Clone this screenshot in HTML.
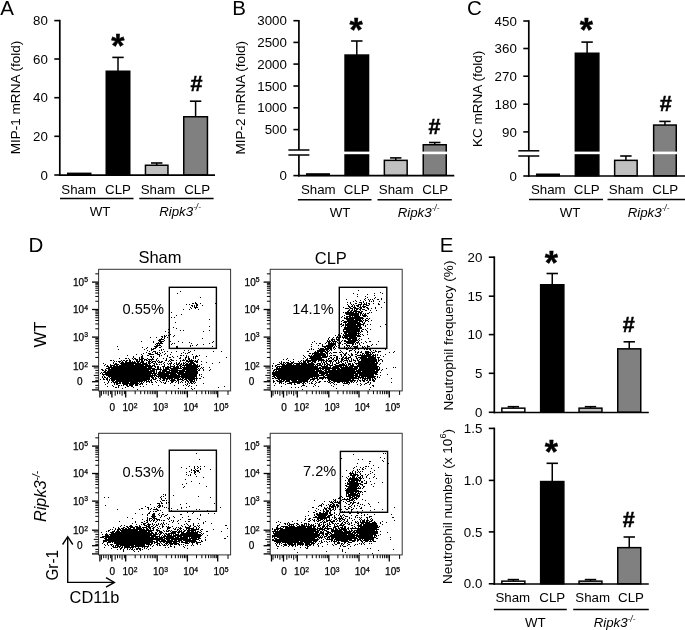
<!DOCTYPE html>
<html><head><meta charset="utf-8"><title>Figure</title>
<style>html,body{margin:0;padding:0;background:#fff;}svg{display:block;filter:grayscale(1);}text{font-family:"Liberation Sans",sans-serif;}</style>
</head><body>
<svg width="685" height="630" viewBox="0 0 685 630">
<rect width="685" height="630" fill="#fff"/>
<text x="0.30" y="15.30" font-size="20.5" text-anchor="start" font-weight="normal" font-style="normal" fill="#000" >A</text>
<text x="232.20" y="15.00" font-size="20.5" text-anchor="start" font-weight="normal" font-style="normal" fill="#000" >B</text>
<text x="466.90" y="15.20" font-size="20.5" text-anchor="start" font-weight="normal" font-style="normal" fill="#000" >C</text>
<text x="28.60" y="251.50" font-size="20.5" text-anchor="start" font-weight="normal" font-style="normal" fill="#000" >D</text>
<text x="439.70" y="252.00" font-size="20.5" text-anchor="start" font-weight="normal" font-style="normal" fill="#000" >E</text>
<rect x="67.75" y="173.35" width="23.00" height="1.60" fill="#000" stroke="#000" stroke-width="1.5"/>
<line x1="118.00" y1="57.40" x2="118.00" y2="71.50" stroke="#000" stroke-width="1.5" />
<line x1="112.30" y1="57.40" x2="123.70" y2="57.40" stroke="#000" stroke-width="1.6" />
<rect x="106.25" y="71.25" width="23.50" height="103.70" fill="#000" stroke="#000" stroke-width="1.5"/>
<line x1="156.70" y1="163.00" x2="156.70" y2="165.50" stroke="#000" stroke-width="1.5" />
<line x1="151.00" y1="163.00" x2="162.40" y2="163.00" stroke="#000" stroke-width="1.6" />
<rect x="145.45" y="165.25" width="22.50" height="9.70" fill="#c0c0c0" stroke="#000" stroke-width="1.5"/>
<line x1="195.60" y1="101.20" x2="195.60" y2="117.00" stroke="#000" stroke-width="1.5" />
<line x1="189.90" y1="101.20" x2="201.30" y2="101.20" stroke="#000" stroke-width="1.6" />
<rect x="183.75" y="116.75" width="23.70" height="58.20" fill="#808080" stroke="#000" stroke-width="1.5"/>
<line x1="59.80" y1="19.80" x2="59.80" y2="176.00" stroke="#000" stroke-width="1.7" />
<line x1="59.00" y1="175.20" x2="215.00" y2="175.20" stroke="#000" stroke-width="1.7" />
<line x1="54.30" y1="20.60" x2="59.80" y2="20.60" stroke="#000" stroke-width="1.6" />
<text x="47.80" y="25.20" font-size="13.3" text-anchor="end" font-weight="normal" font-style="normal" fill="#000" >80</text>
<line x1="54.30" y1="59.00" x2="59.80" y2="59.00" stroke="#000" stroke-width="1.6" />
<text x="47.80" y="63.60" font-size="13.3" text-anchor="end" font-weight="normal" font-style="normal" fill="#000" >60</text>
<line x1="54.30" y1="97.70" x2="59.80" y2="97.70" stroke="#000" stroke-width="1.6" />
<text x="47.80" y="102.30" font-size="13.3" text-anchor="end" font-weight="normal" font-style="normal" fill="#000" >40</text>
<line x1="54.30" y1="136.30" x2="59.80" y2="136.30" stroke="#000" stroke-width="1.6" />
<text x="47.80" y="140.90" font-size="13.3" text-anchor="end" font-weight="normal" font-style="normal" fill="#000" >20</text>
<line x1="54.30" y1="175.00" x2="59.80" y2="175.00" stroke="#000" stroke-width="1.6" />
<text x="47.80" y="179.60" font-size="13.3" text-anchor="end" font-weight="normal" font-style="normal" fill="#000" >0</text>
<text x="78.70" y="193.90" font-size="13.3" text-anchor="middle" font-weight="normal" font-style="normal" fill="#000" >Sham</text>
<text x="118.00" y="193.90" font-size="13.3" text-anchor="middle" font-weight="normal" font-style="normal" fill="#000" >CLP</text>
<text x="158.00" y="193.90" font-size="13.3" text-anchor="middle" font-weight="normal" font-style="normal" fill="#000" >Sham</text>
<text x="197.20" y="193.90" font-size="13.3" text-anchor="middle" font-weight="normal" font-style="normal" fill="#000" >CLP</text>
<line x1="60.00" y1="198.40" x2="133.50" y2="198.40" stroke="#000" stroke-width="1.5" />
<line x1="139.30" y1="198.40" x2="213.60" y2="198.40" stroke="#000" stroke-width="1.5" />
<text x="100.00" y="215.60" font-size="13.3" text-anchor="middle" font-weight="normal" font-style="normal" fill="#000" >WT</text>
<text x="180.00" y="215.60" font-size="13.3" text-anchor="middle" font-weight="normal" font-style="italic" fill="#000" >Ripk3<tspan font-size="8.2" dy="-5.6">-/-</tspan></text>
<text x="20.30" y="97.50" font-size="13.55" text-anchor="middle" font-weight="normal" font-style="normal" fill="#000" transform="rotate(-90 20.30 97.50)" >MIP-1 mRNA (fold)</text>
<text x="117.90" y="57.10" font-size="34" text-anchor="middle" font-weight="bold" font-style="normal" fill="#000" stroke="#000" stroke-width="0.4">*</text>
<text x="196.50" y="90.50" font-size="21.5" text-anchor="middle" font-weight="bold" font-style="normal" fill="#000" stroke="#000" stroke-width="0.5">#</text>
<rect x="306.75" y="173.95" width="22.50" height="1.40" fill="#000" stroke="#000" stroke-width="1.5"/>
<line x1="356.80" y1="41.00" x2="356.80" y2="55.30" stroke="#000" stroke-width="1.5" />
<line x1="351.10" y1="41.00" x2="362.50" y2="41.00" stroke="#000" stroke-width="1.6" />
<rect x="345.05" y="55.05" width="23.50" height="120.30" fill="#000" stroke="#000" stroke-width="1.5"/>
<line x1="395.75" y1="157.90" x2="395.75" y2="160.60" stroke="#000" stroke-width="1.5" />
<line x1="390.05" y1="157.90" x2="401.45" y2="157.90" stroke="#000" stroke-width="1.6" />
<rect x="384.35" y="160.35" width="22.80" height="15.00" fill="#c0c0c0" stroke="#000" stroke-width="1.5"/>
<line x1="434.75" y1="142.50" x2="434.75" y2="145.00" stroke="#000" stroke-width="1.5" />
<line x1="429.05" y1="142.50" x2="440.45" y2="142.50" stroke="#000" stroke-width="1.6" />
<rect x="423.25" y="144.75" width="23.00" height="30.60" fill="#808080" stroke="#000" stroke-width="1.5"/>
<line x1="298.90" y1="19.90" x2="298.90" y2="150.00" stroke="#000" stroke-width="1.7" />
<line x1="298.90" y1="155.00" x2="298.90" y2="176.40" stroke="#000" stroke-width="1.7" />
<line x1="288.40" y1="150.00" x2="309.40" y2="150.00" stroke="#000" stroke-width="1.5" />
<line x1="288.40" y1="155.00" x2="309.40" y2="155.00" stroke="#000" stroke-width="1.5" />
<line x1="298.10" y1="175.60" x2="454.30" y2="175.60" stroke="#000" stroke-width="1.7" />
<line x1="293.40" y1="20.70" x2="298.90" y2="20.70" stroke="#000" stroke-width="1.6" />
<text x="286.90" y="25.30" font-size="13.3" text-anchor="end" font-weight="normal" font-style="normal" fill="#000" >3000</text>
<line x1="293.40" y1="42.40" x2="298.90" y2="42.40" stroke="#000" stroke-width="1.6" />
<text x="286.90" y="47.00" font-size="13.3" text-anchor="end" font-weight="normal" font-style="normal" fill="#000" >2500</text>
<line x1="293.40" y1="64.10" x2="298.90" y2="64.10" stroke="#000" stroke-width="1.6" />
<text x="286.90" y="68.70" font-size="13.3" text-anchor="end" font-weight="normal" font-style="normal" fill="#000" >2000</text>
<line x1="293.40" y1="86.00" x2="298.90" y2="86.00" stroke="#000" stroke-width="1.6" />
<text x="286.90" y="90.60" font-size="13.3" text-anchor="end" font-weight="normal" font-style="normal" fill="#000" >1500</text>
<line x1="293.40" y1="107.80" x2="298.90" y2="107.80" stroke="#000" stroke-width="1.6" />
<text x="286.90" y="112.40" font-size="13.3" text-anchor="end" font-weight="normal" font-style="normal" fill="#000" >1000</text>
<line x1="293.40" y1="129.60" x2="298.90" y2="129.60" stroke="#000" stroke-width="1.6" />
<text x="286.90" y="134.20" font-size="13.3" text-anchor="end" font-weight="normal" font-style="normal" fill="#000" >500</text>
<line x1="293.40" y1="175.60" x2="298.90" y2="175.60" stroke="#000" stroke-width="1.6" />
<text x="286.90" y="180.20" font-size="13.3" text-anchor="end" font-weight="normal" font-style="normal" fill="#000" >0</text>
<text x="318.30" y="194.40" font-size="13.3" text-anchor="middle" font-weight="normal" font-style="normal" fill="#000" >Sham</text>
<text x="356.80" y="194.40" font-size="13.3" text-anchor="middle" font-weight="normal" font-style="normal" fill="#000" >CLP</text>
<text x="396.20" y="194.40" font-size="13.3" text-anchor="middle" font-weight="normal" font-style="normal" fill="#000" >Sham</text>
<text x="435.30" y="194.40" font-size="13.3" text-anchor="middle" font-weight="normal" font-style="normal" fill="#000" >CLP</text>
<line x1="297.90" y1="199.70" x2="371.50" y2="199.70" stroke="#000" stroke-width="1.5" />
<line x1="377.50" y1="199.70" x2="451.80" y2="199.70" stroke="#000" stroke-width="1.5" />
<text x="340.00" y="216.80" font-size="13.3" text-anchor="middle" font-weight="normal" font-style="normal" fill="#000" >WT</text>
<text x="418.50" y="216.80" font-size="13.3" text-anchor="middle" font-weight="normal" font-style="italic" fill="#000" >Ripk3<tspan font-size="8.2" dy="-5.6">-/-</tspan></text>
<text x="244.60" y="97.70" font-size="13.55" text-anchor="middle" font-weight="normal" font-style="normal" fill="#000" transform="rotate(-90 244.60 97.70)" >MIP-2 mRNA (fold)</text>
<text x="356.20" y="41.10" font-size="34" text-anchor="middle" font-weight="bold" font-style="normal" fill="#000" stroke="#000" stroke-width="0.4">*</text>
<text x="434.60" y="134.00" font-size="21.5" text-anchor="middle" font-weight="bold" font-style="normal" fill="#000" stroke="#000" stroke-width="0.5">#</text>
<rect x="343" y="151.6" width="28" height="2.6" fill="#fff"/>
<rect x="421" y="151.6" width="28" height="2.6" fill="#fff"/>
<rect x="536.75" y="174.25" width="22.50" height="1.50" fill="#000" stroke="#000" stroke-width="1.5"/>
<line x1="587.10" y1="42.10" x2="587.10" y2="53.50" stroke="#000" stroke-width="1.5" />
<line x1="581.40" y1="42.10" x2="592.80" y2="42.10" stroke="#000" stroke-width="1.6" />
<rect x="575.35" y="53.25" width="23.50" height="122.50" fill="#000" stroke="#000" stroke-width="1.5"/>
<line x1="625.90" y1="156.00" x2="625.90" y2="160.60" stroke="#000" stroke-width="1.5" />
<line x1="620.20" y1="156.00" x2="631.60" y2="156.00" stroke="#000" stroke-width="1.6" />
<rect x="614.65" y="160.35" width="22.50" height="15.40" fill="#c0c0c0" stroke="#000" stroke-width="1.5"/>
<line x1="664.95" y1="121.40" x2="664.95" y2="125.30" stroke="#000" stroke-width="1.5" />
<line x1="659.25" y1="121.40" x2="670.65" y2="121.40" stroke="#000" stroke-width="1.6" />
<rect x="653.65" y="125.05" width="22.60" height="50.70" fill="#808080" stroke="#000" stroke-width="1.5"/>
<line x1="528.80" y1="20.20" x2="528.80" y2="150.80" stroke="#000" stroke-width="1.7" />
<line x1="528.80" y1="156.00" x2="528.80" y2="176.80" stroke="#000" stroke-width="1.7" />
<line x1="518.30" y1="150.80" x2="539.30" y2="150.80" stroke="#000" stroke-width="1.5" />
<line x1="518.30" y1="156.00" x2="539.30" y2="156.00" stroke="#000" stroke-width="1.5" />
<line x1="528.00" y1="176.00" x2="685.00" y2="176.00" stroke="#000" stroke-width="1.7" />
<line x1="523.30" y1="21.00" x2="528.80" y2="21.00" stroke="#000" stroke-width="1.6" />
<text x="516.80" y="25.60" font-size="13.3" text-anchor="end" font-weight="normal" font-style="normal" fill="#000" >450</text>
<line x1="523.30" y1="48.50" x2="528.80" y2="48.50" stroke="#000" stroke-width="1.6" />
<text x="516.80" y="53.10" font-size="13.3" text-anchor="end" font-weight="normal" font-style="normal" fill="#000" >360</text>
<line x1="523.30" y1="76.20" x2="528.80" y2="76.20" stroke="#000" stroke-width="1.6" />
<text x="516.80" y="80.80" font-size="13.3" text-anchor="end" font-weight="normal" font-style="normal" fill="#000" >270</text>
<line x1="523.30" y1="104.20" x2="528.80" y2="104.20" stroke="#000" stroke-width="1.6" />
<text x="516.80" y="108.80" font-size="13.3" text-anchor="end" font-weight="normal" font-style="normal" fill="#000" >180</text>
<line x1="523.30" y1="131.90" x2="528.80" y2="131.90" stroke="#000" stroke-width="1.6" />
<text x="516.80" y="136.50" font-size="13.3" text-anchor="end" font-weight="normal" font-style="normal" fill="#000" >90</text>
<line x1="523.30" y1="176.00" x2="528.80" y2="176.00" stroke="#000" stroke-width="1.6" />
<text x="516.80" y="180.60" font-size="13.3" text-anchor="end" font-weight="normal" font-style="normal" fill="#000" >0</text>
<text x="548.30" y="194.40" font-size="13.3" text-anchor="middle" font-weight="normal" font-style="normal" fill="#000" >Sham</text>
<text x="586.80" y="194.40" font-size="13.3" text-anchor="middle" font-weight="normal" font-style="normal" fill="#000" >CLP</text>
<text x="626.20" y="194.40" font-size="13.3" text-anchor="middle" font-weight="normal" font-style="normal" fill="#000" >Sham</text>
<text x="665.30" y="194.40" font-size="13.3" text-anchor="middle" font-weight="normal" font-style="normal" fill="#000" >CLP</text>
<line x1="529.00" y1="199.50" x2="603.00" y2="199.50" stroke="#000" stroke-width="1.5" />
<line x1="607.50" y1="199.50" x2="685.00" y2="199.50" stroke="#000" stroke-width="1.5" />
<text x="570.00" y="216.80" font-size="13.3" text-anchor="middle" font-weight="normal" font-style="normal" fill="#000" >WT</text>
<text x="648.50" y="216.80" font-size="13.3" text-anchor="middle" font-weight="normal" font-style="italic" fill="#000" >Ripk3<tspan font-size="8.2" dy="-5.6">-/-</tspan></text>
<text x="481.80" y="98.90" font-size="13.55" text-anchor="middle" font-weight="normal" font-style="normal" fill="#000" transform="rotate(-90 481.80 98.90)" >KC mRNA (fold)</text>
<text x="586.40" y="41.10" font-size="34" text-anchor="middle" font-weight="bold" font-style="normal" fill="#000" stroke="#000" stroke-width="0.4">*</text>
<text x="665.70" y="110.70" font-size="21.5" text-anchor="middle" font-weight="bold" font-style="normal" fill="#000" stroke="#000" stroke-width="0.5">#</text>
<rect x="573" y="151.6" width="28" height="2.6" fill="#fff"/>
<rect x="651" y="151.6" width="28" height="2.6" fill="#fff"/>
<line x1="513.35" y1="406.70" x2="513.35" y2="408.40" stroke="#000" stroke-width="1.5" />
<line x1="507.65" y1="406.70" x2="519.05" y2="406.70" stroke="#000" stroke-width="1.6" />
<rect x="501.85" y="408.15" width="23.00" height="4.10" fill="#fff" stroke="#000" stroke-width="1.5"/>
<line x1="552.25" y1="273.50" x2="552.25" y2="285.00" stroke="#000" stroke-width="1.5" />
<line x1="546.55" y1="273.50" x2="557.95" y2="273.50" stroke="#000" stroke-width="1.6" />
<rect x="540.65" y="284.75" width="23.20" height="127.50" fill="#000" stroke="#000" stroke-width="1.5"/>
<line x1="590.50" y1="406.70" x2="590.50" y2="408.40" stroke="#000" stroke-width="1.5" />
<line x1="584.80" y1="406.70" x2="596.20" y2="406.70" stroke="#000" stroke-width="1.6" />
<rect x="579.05" y="408.15" width="22.90" height="4.10" fill="#c0c0c0" stroke="#000" stroke-width="1.5"/>
<line x1="629.25" y1="341.80" x2="629.25" y2="349.10" stroke="#000" stroke-width="1.5" />
<line x1="623.55" y1="341.80" x2="634.95" y2="341.80" stroke="#000" stroke-width="1.6" />
<rect x="617.75" y="348.85" width="23.00" height="63.40" fill="#808080" stroke="#000" stroke-width="1.5"/>
<line x1="494.30" y1="256.40" x2="494.30" y2="413.30" stroke="#000" stroke-width="1.7" />
<line x1="493.50" y1="412.50" x2="648.80" y2="412.50" stroke="#000" stroke-width="1.7" />
<line x1="488.80" y1="257.20" x2="494.30" y2="257.20" stroke="#000" stroke-width="1.6" />
<text x="482.30" y="261.80" font-size="13.3" text-anchor="end" font-weight="normal" font-style="normal" fill="#000" >20</text>
<line x1="488.80" y1="296.20" x2="494.30" y2="296.20" stroke="#000" stroke-width="1.6" />
<text x="482.30" y="300.80" font-size="13.3" text-anchor="end" font-weight="normal" font-style="normal" fill="#000" >15</text>
<line x1="488.80" y1="334.60" x2="494.30" y2="334.60" stroke="#000" stroke-width="1.6" />
<text x="482.30" y="339.20" font-size="13.3" text-anchor="end" font-weight="normal" font-style="normal" fill="#000" >10</text>
<line x1="488.80" y1="373.30" x2="494.30" y2="373.30" stroke="#000" stroke-width="1.6" />
<text x="482.30" y="377.90" font-size="13.3" text-anchor="end" font-weight="normal" font-style="normal" fill="#000" >5</text>
<line x1="488.80" y1="412.30" x2="494.30" y2="412.30" stroke="#000" stroke-width="1.6" />
<text x="482.30" y="416.90" font-size="13.3" text-anchor="end" font-weight="normal" font-style="normal" fill="#000" >0</text>
<text x="452.80" y="335.50" font-size="13.55" text-anchor="middle" font-weight="normal" font-style="normal" fill="#000" transform="rotate(-90 452.80 335.50)" >Neutrophil frequency (%)</text>
<text x="551.30" y="274.10" font-size="34" text-anchor="middle" font-weight="bold" font-style="normal" fill="#000" stroke="#000" stroke-width="0.4">*</text>
<text x="628.80" y="332.30" font-size="21.5" text-anchor="middle" font-weight="bold" font-style="normal" fill="#000" stroke="#000" stroke-width="0.5">#</text>
<line x1="513.35" y1="579.60" x2="513.35" y2="581.40" stroke="#000" stroke-width="1.5" />
<line x1="507.65" y1="579.60" x2="519.05" y2="579.60" stroke="#000" stroke-width="1.6" />
<rect x="501.85" y="581.15" width="23.00" height="2.60" fill="#fff" stroke="#000" stroke-width="1.5"/>
<line x1="552.25" y1="463.30" x2="552.25" y2="481.80" stroke="#000" stroke-width="1.5" />
<line x1="546.55" y1="463.30" x2="557.95" y2="463.30" stroke="#000" stroke-width="1.6" />
<rect x="540.65" y="481.55" width="23.20" height="102.20" fill="#000" stroke="#000" stroke-width="1.5"/>
<line x1="590.50" y1="579.60" x2="590.50" y2="581.40" stroke="#000" stroke-width="1.5" />
<line x1="584.80" y1="579.60" x2="596.20" y2="579.60" stroke="#000" stroke-width="1.6" />
<rect x="579.05" y="581.15" width="22.90" height="2.60" fill="#c0c0c0" stroke="#000" stroke-width="1.5"/>
<line x1="629.25" y1="537.00" x2="629.25" y2="547.90" stroke="#000" stroke-width="1.5" />
<line x1="623.55" y1="537.00" x2="634.95" y2="537.00" stroke="#000" stroke-width="1.6" />
<rect x="617.75" y="547.65" width="23.00" height="36.10" fill="#808080" stroke="#000" stroke-width="1.5"/>
<line x1="494.30" y1="427.60" x2="494.30" y2="584.80" stroke="#000" stroke-width="1.7" />
<line x1="493.50" y1="584.00" x2="648.80" y2="584.00" stroke="#000" stroke-width="1.7" />
<line x1="488.80" y1="428.40" x2="494.30" y2="428.40" stroke="#000" stroke-width="1.6" />
<text x="482.30" y="433.00" font-size="13.3" text-anchor="end" font-weight="normal" font-style="normal" fill="#000" >1.5</text>
<line x1="488.80" y1="480.40" x2="494.30" y2="480.40" stroke="#000" stroke-width="1.6" />
<text x="482.30" y="485.00" font-size="13.3" text-anchor="end" font-weight="normal" font-style="normal" fill="#000" >1.0</text>
<line x1="488.80" y1="531.90" x2="494.30" y2="531.90" stroke="#000" stroke-width="1.6" />
<text x="482.30" y="536.50" font-size="13.3" text-anchor="end" font-weight="normal" font-style="normal" fill="#000" >0.5</text>
<line x1="488.80" y1="583.80" x2="494.30" y2="583.80" stroke="#000" stroke-width="1.6" />
<text x="482.30" y="588.40" font-size="13.3" text-anchor="end" font-weight="normal" font-style="normal" fill="#000" >0.0</text>
<text x="512.80" y="602.30" font-size="13.3" text-anchor="middle" font-weight="normal" font-style="normal" fill="#000" >Sham</text>
<text x="552.30" y="602.30" font-size="13.3" text-anchor="middle" font-weight="normal" font-style="normal" fill="#000" >CLP</text>
<text x="592.70" y="602.30" font-size="13.3" text-anchor="middle" font-weight="normal" font-style="normal" fill="#000" >Sham</text>
<text x="631.00" y="602.30" font-size="13.3" text-anchor="middle" font-weight="normal" font-style="normal" fill="#000" >CLP</text>
<line x1="493.80" y1="609.50" x2="566.80" y2="609.50" stroke="#000" stroke-width="1.5" />
<line x1="573.20" y1="609.50" x2="648.80" y2="609.50" stroke="#000" stroke-width="1.5" />
<text x="535.40" y="627.20" font-size="13.3" text-anchor="middle" font-weight="normal" font-style="normal" fill="#000" >WT</text>
<text x="614.50" y="627.20" font-size="13.3" text-anchor="middle" font-weight="normal" font-style="italic" fill="#000" >Ripk3<tspan font-size="8.2" dy="-5.6">-/-</tspan></text>
<text x="452.00" y="506.50" font-size="13.55" text-anchor="middle" font-weight="normal" font-style="normal" fill="#000" transform="rotate(-90 452.00 506.50)" >Neutrophil number (x 10<tspan font-size="9" dy="-6.3">6</tspan><tspan dy="6.3">)</tspan></text>
<text x="551.30" y="463.10" font-size="34" text-anchor="middle" font-weight="bold" font-style="normal" fill="#000" stroke="#000" stroke-width="0.4">*</text>
<text x="628.80" y="527.00" font-size="21.5" text-anchor="middle" font-weight="bold" font-style="normal" fill="#000" stroke="#000" stroke-width="0.5">#</text>
<path d="M180 291.5h1M177 293.5h1M200 297.5h1M195 302.5h1M192 303.5h2M195 303.5h2M200 303.5h1M215 303.5h1M186 304.5h1M189 304.5h1M196 304.5h2M191 305.5h2M194 305.5h1M196 305.5h2M202 305.5h1M192 306.5h1M194 306.5h1M196 306.5h1M190 307.5h1M194 307.5h4M191 308.5h1M195 308.5h1M183 309.5h1M189 309.5h1M198 309.5h1M171 312.5h1M181 314.5h1M176 315.5h1M171 317.5h1M174 317.5h1M209 319.5h1M175 322.5h1M209 326.5h1M173 327.5h1M169 328.5h1M176 328.5h1M168 329.5h1M180 330.5h1M183 330.5h1M209 330.5h1M165 331.5h1M203 331.5h1M168 332.5h1M170 334.5h1M164 335.5h1M166 335.5h1M168 335.5h1M174 335.5h1M161 336.5h2M164 336.5h2M173 336.5h1M150 337.5h1M156 337.5h1M162 337.5h1M164 337.5h1M167 337.5h1M161 338.5h1M164 338.5h1M202 338.5h1M159 339.5h5M158 340.5h3M164 340.5h1M141 341.5h1M153 341.5h1M159 341.5h5M170 341.5h1M178 341.5h1M213 341.5h1M153 342.5h1M158 342.5h1M160 342.5h2M182 342.5h1M189 342.5h1M212 342.5h1M156 343.5h7M172 343.5h1M174 343.5h1M191 343.5h1M209 343.5h1M155 344.5h1M157 344.5h1M159 344.5h1M171 344.5h1M197 344.5h1M203 344.5h1M156 345.5h5M190 345.5h1M192 345.5h1M196 345.5h1M117 346.5h1M154 346.5h4M161 346.5h1M176 346.5h2M190 346.5h1M212 346.5h1M142 347.5h1M147 347.5h1M155 347.5h2M159 347.5h2M176 347.5h2M146 348.5h1M151 348.5h1M153 348.5h3M193 348.5h1M118 349.5h1M144 349.5h1M151 349.5h3M161 349.5h1M163 349.5h1M147 350.5h1M151 350.5h1M159 350.5h1M161 350.5h1M184 350.5h1M188 350.5h1M194 350.5h1M149 351.5h1M153 351.5h3M164 351.5h1M167 351.5h1M176 351.5h1M190 351.5h1M213 351.5h1M221 351.5h1M146 352.5h1M152 352.5h1M155 352.5h1M157 352.5h1M159 352.5h1M162 352.5h1M171 352.5h1M183 352.5h1M188 352.5h2M143 353.5h1M148 353.5h3M155 353.5h3M160 353.5h1M165 353.5h1M181 353.5h1M185 353.5h1M187 353.5h1M136 354.5h1M141 354.5h1M149 354.5h5M157 354.5h3M164 354.5h1M170 354.5h1M192 354.5h1M127 355.5h1M142 355.5h1M147 355.5h2M159 355.5h1M161 355.5h1M167 355.5h1M180 355.5h2M183 355.5h1M186 355.5h1M196 355.5h1M199 355.5h1M133 356.5h1M141 356.5h2M150 356.5h2M153 356.5h1M159 356.5h1M167 356.5h1M172 356.5h1M177 356.5h1M186 356.5h1M188 356.5h1M193 356.5h1M195 356.5h3M206 356.5h1M133 357.5h1M139 357.5h1M141 357.5h2M151 357.5h1M153 357.5h1M169 357.5h2M173 357.5h1M180 357.5h1M185 357.5h2M188 357.5h1M193 357.5h1M195 357.5h1M226 357.5h1M119 358.5h1M125 358.5h2M128 358.5h1M132 358.5h1M134 358.5h2M139 358.5h1M141 358.5h3M147 358.5h1M152 358.5h1M157 358.5h1M163 358.5h1M166 358.5h1M179 358.5h2M185 358.5h1M188 358.5h2M193 358.5h1M195 358.5h1M129 359.5h1M133 359.5h1M135 359.5h3M139 359.5h4M144 359.5h3M148 359.5h6M156 359.5h1M166 359.5h1M170 359.5h2M183 359.5h1M185 359.5h1M188 359.5h2M191 359.5h1M198 359.5h1M110 360.5h2M113 360.5h1M121 360.5h1M123 360.5h2M126 360.5h2M129 360.5h2M136 360.5h2M139 360.5h1M141 360.5h2M144 360.5h1M146 360.5h2M149 360.5h1M151 360.5h1M156 360.5h1M158 360.5h1M165 360.5h2M169 360.5h1M171 360.5h3M176 360.5h1M180 360.5h1M182 360.5h3M186 360.5h2M189 360.5h5M195 360.5h1M197 360.5h1M114 361.5h1M116 361.5h1M118 361.5h3M122 361.5h1M125 361.5h2M129 361.5h2M132 361.5h1M134 361.5h1M136 361.5h4M141 361.5h3M148 361.5h3M152 361.5h4M157 361.5h1M159 361.5h1M161 361.5h2M168 361.5h1M170 361.5h1M180 361.5h1M186 361.5h7M194 361.5h4M201 361.5h1M113 362.5h1M119 362.5h1M121 362.5h3M125 362.5h11M137 362.5h2M140 362.5h4M146 362.5h1M148 362.5h2M151 362.5h2M155 362.5h1M158 362.5h4M164 362.5h1M171 362.5h1M176 362.5h1M179 362.5h1M183 362.5h1M185 362.5h1M188 362.5h1M190 362.5h4M196 362.5h2M206 362.5h1M219 362.5h1M103 363.5h1M113 363.5h1M115 363.5h2M120 363.5h21M142 363.5h5M148 363.5h3M153 363.5h2M156 363.5h1M163 363.5h1M167 363.5h1M169 363.5h3M174 363.5h1M176 363.5h1M178 363.5h2M181 363.5h1M183 363.5h2M186 363.5h2M189 363.5h6M212 363.5h1M105 364.5h1M110 364.5h1M114 364.5h5M121 364.5h13M135 364.5h13M149 364.5h1M154 364.5h1M156 364.5h2M159 364.5h1M161 364.5h1M164 364.5h1M168 364.5h1M170 364.5h1M173 364.5h1M176 364.5h3M180 364.5h2M183 364.5h1M185 364.5h7M193 364.5h3M197 364.5h1M201 364.5h1M104 365.5h1M107 365.5h1M110 365.5h5M116 365.5h2M119 365.5h25M145 365.5h6M152 365.5h3M164 365.5h1M170 365.5h1M174 365.5h1M177 365.5h1M179 365.5h2M182 365.5h16M199 365.5h1M106 366.5h3M110 366.5h2M113 366.5h40M154 366.5h2M157 366.5h2M162 366.5h3M167 366.5h2M170 366.5h5M176 366.5h3M180 366.5h2M184 366.5h1M186 366.5h14M108 367.5h39M148 367.5h4M155 367.5h1M157 367.5h2M160 367.5h1M163 367.5h1M165 367.5h6M173 367.5h6M180 367.5h1M182 367.5h16M201 367.5h1M203 367.5h1M209 367.5h1M106 368.5h4M111 368.5h44M157 368.5h2M160 368.5h1M163 368.5h1M165 368.5h4M170 368.5h12M183 368.5h14M198 368.5h1M200 368.5h1M202 368.5h1M101 369.5h2M105 369.5h1M108 369.5h43M152 369.5h10M163 369.5h7M171 369.5h7M182 369.5h16M199 369.5h1M203 369.5h1M210 369.5h1M102 370.5h2M105 370.5h2M108 370.5h41M150 370.5h5M156 370.5h1M160 370.5h1M162 370.5h5M169 370.5h16M186 370.5h11M198 370.5h2M203 370.5h1M209 370.5h1M104 371.5h2M107 371.5h48M156 371.5h1M159 371.5h2M162 371.5h8M171 371.5h7M179 371.5h19M101 372.5h1M103 372.5h49M153 372.5h2M156 372.5h1M158 372.5h7M166 372.5h18M185 372.5h13M100 373.5h1M102 373.5h1M105 373.5h52M158 373.5h18M177 373.5h21M102 374.5h49M152 374.5h1M154 374.5h2M157 374.5h12M170 374.5h7M178 374.5h19M199 374.5h1M201 374.5h1M103 375.5h1M106 375.5h51M158 375.5h22M181 375.5h16M199 375.5h1M102 376.5h1M104 376.5h1M108 376.5h45M154 376.5h1M156 376.5h41M201 376.5h1M102 377.5h1M104 377.5h2M107 377.5h1M109 377.5h1M111 377.5h39M151 377.5h3M155 377.5h1M158 377.5h1M160 377.5h6M167 377.5h13M181 377.5h14M196 377.5h1M203 377.5h1M103 378.5h1M106 378.5h2M110 378.5h40M152 378.5h2M155 378.5h2M159 378.5h2M162 378.5h11M174 378.5h5M180 378.5h1M182 378.5h2M185 378.5h13M199 378.5h2M100 379.5h1M103 379.5h2M106 379.5h2M109 379.5h1M111 379.5h39M151 379.5h1M153 379.5h3M160 379.5h1M163 379.5h2M166 379.5h2M169 379.5h1M171 379.5h4M177 379.5h6M184 379.5h3M188 379.5h7M196 379.5h1M107 380.5h1M109 380.5h1M111 380.5h4M116 380.5h31M148 380.5h1M150 380.5h2M157 380.5h1M159 380.5h1M162 380.5h3M166 380.5h1M170 380.5h6M177 380.5h2M182 380.5h2M186 380.5h2M189 380.5h4M194 380.5h1M196 380.5h1M108 381.5h1M112 381.5h2M115 381.5h28M144 381.5h1M146 381.5h4M151 381.5h1M155 381.5h1M160 381.5h1M166 381.5h1M168 381.5h1M171 381.5h3M176 381.5h1M178 381.5h1M181 381.5h1M185 381.5h1M187 381.5h2M190 381.5h5M104 382.5h1M108 382.5h1M111 382.5h1M113 382.5h5M119 382.5h2M122 382.5h7M130 382.5h8M139 382.5h1M141 382.5h1M143 382.5h1M146 382.5h1M149 382.5h1M151 382.5h2M156 382.5h1M161 382.5h1M163 382.5h1M165 382.5h1M171 382.5h2M175 382.5h1M178 382.5h1M180 382.5h1M182 382.5h1M185 382.5h1M188 382.5h1M190 382.5h2M193 382.5h1M195 382.5h1M107 383.5h1M114 383.5h1M116 383.5h5M122 383.5h17M140 383.5h3M164 383.5h2M170 383.5h1M178 383.5h1M187 383.5h1M189 383.5h1M191 383.5h2M194 383.5h1M203 383.5h1M105 384.5h1M114 384.5h1M116 384.5h2M123 384.5h5M129 384.5h5M135 384.5h3M139 384.5h2M142 384.5h1M146 384.5h1M152 384.5h1M185 384.5h1M187 384.5h1M112 385.5h1M118 385.5h2M121 385.5h1M123 385.5h1M126 385.5h2M129 385.5h4M135 385.5h3M158 385.5h1M174 385.5h1M183 385.5h1M186 385.5h1M189 385.5h1M196 385.5h1M107 386.5h1M113 386.5h1M118 386.5h1M127 386.5h2M131 386.5h2M140 386.5h1M143 386.5h1M188 386.5h1M191 386.5h1M224 386.5h1M115 387.5h2M118 387.5h1M125 387.5h1M133 387.5h1M218 387.5h1M122 388.5h1M178 388.5h1M185 388.5h1M191 388.5h1M194 388.5h1M137 389.5h1M192 389.5h1" stroke="#000" stroke-width="1" fill="none" shape-rendering="crispEdges"/>
<rect x="98.60" y="269.30" width="132" height="121.6" fill="none" stroke="#333" stroke-width="1"/>
<rect x="169.30" y="287.30" width="47.10" height="61.10" fill="none" stroke="#000" stroke-width="1.4"/>
<text x="122.50" y="313.80" font-size="14.6" text-anchor="start" font-weight="normal" font-style="normal" fill="#000" >0.55%</text>
<line x1="92.00" y1="282.10" x2="98.60" y2="282.10" stroke="#000" stroke-width="1.3" />
<text x="73.00" y="285.70" font-size="10" text-anchor="start" font-weight="normal" font-style="normal" fill="#000" stroke="#000" stroke-width="0.25">10<tspan font-size="6.8" dy="-3.3">5</tspan></text>
<line x1="92.00" y1="309.50" x2="98.60" y2="309.50" stroke="#000" stroke-width="1.3" />
<text x="73.00" y="313.10" font-size="10" text-anchor="start" font-weight="normal" font-style="normal" fill="#000" stroke="#000" stroke-width="0.25">10<tspan font-size="6.8" dy="-3.3">4</tspan></text>
<line x1="92.00" y1="337.10" x2="98.60" y2="337.10" stroke="#000" stroke-width="1.3" />
<text x="73.00" y="340.70" font-size="10" text-anchor="start" font-weight="normal" font-style="normal" fill="#000" stroke="#000" stroke-width="0.25">10<tspan font-size="6.8" dy="-3.3">3</tspan></text>
<line x1="92.00" y1="366.20" x2="98.60" y2="366.20" stroke="#000" stroke-width="1.3" />
<text x="73.00" y="369.80" font-size="10" text-anchor="start" font-weight="normal" font-style="normal" fill="#000" stroke="#000" stroke-width="0.25">10<tspan font-size="6.8" dy="-3.3">2</tspan></text>
<line x1="92.00" y1="381.70" x2="98.60" y2="381.70" stroke="#000" stroke-width="1.3" />
<text x="77.10" y="385.30" font-size="10" text-anchor="start" font-weight="normal" font-style="normal" fill="#000" stroke="#000" stroke-width="0.25">0</text>
<line x1="92.00" y1="389.90" x2="98.60" y2="389.90" stroke="#000" stroke-width="1.3" />
<line x1="95.30" y1="301.25" x2="98.60" y2="301.25" stroke="#000" stroke-width="1" />
<line x1="95.30" y1="296.43" x2="98.60" y2="296.43" stroke="#000" stroke-width="1" />
<line x1="95.30" y1="293.00" x2="98.60" y2="293.00" stroke="#000" stroke-width="1" />
<line x1="95.30" y1="290.35" x2="98.60" y2="290.35" stroke="#000" stroke-width="1" />
<line x1="95.30" y1="288.18" x2="98.60" y2="288.18" stroke="#000" stroke-width="1" />
<line x1="95.30" y1="286.34" x2="98.60" y2="286.34" stroke="#000" stroke-width="1" />
<line x1="95.30" y1="284.76" x2="98.60" y2="284.76" stroke="#000" stroke-width="1" />
<line x1="95.30" y1="283.35" x2="98.60" y2="283.35" stroke="#000" stroke-width="1" />
<line x1="95.30" y1="328.79" x2="98.60" y2="328.79" stroke="#000" stroke-width="1" />
<line x1="95.30" y1="323.93" x2="98.60" y2="323.93" stroke="#000" stroke-width="1" />
<line x1="95.30" y1="320.48" x2="98.60" y2="320.48" stroke="#000" stroke-width="1" />
<line x1="95.30" y1="317.81" x2="98.60" y2="317.81" stroke="#000" stroke-width="1" />
<line x1="95.30" y1="315.62" x2="98.60" y2="315.62" stroke="#000" stroke-width="1" />
<line x1="95.30" y1="313.78" x2="98.60" y2="313.78" stroke="#000" stroke-width="1" />
<line x1="95.30" y1="312.17" x2="98.60" y2="312.17" stroke="#000" stroke-width="1" />
<line x1="95.30" y1="310.76" x2="98.60" y2="310.76" stroke="#000" stroke-width="1" />
<line x1="95.30" y1="357.44" x2="98.60" y2="357.44" stroke="#000" stroke-width="1" />
<line x1="95.30" y1="352.32" x2="98.60" y2="352.32" stroke="#000" stroke-width="1" />
<line x1="95.30" y1="348.68" x2="98.60" y2="348.68" stroke="#000" stroke-width="1" />
<line x1="95.30" y1="345.86" x2="98.60" y2="345.86" stroke="#000" stroke-width="1" />
<line x1="95.30" y1="343.56" x2="98.60" y2="343.56" stroke="#000" stroke-width="1" />
<line x1="95.30" y1="341.61" x2="98.60" y2="341.61" stroke="#000" stroke-width="1" />
<line x1="95.30" y1="339.92" x2="98.60" y2="339.92" stroke="#000" stroke-width="1" />
<line x1="95.30" y1="338.43" x2="98.60" y2="338.43" stroke="#000" stroke-width="1" />
<line x1="95.30" y1="273.85" x2="98.60" y2="273.85" stroke="#000" stroke-width="1" />
<line x1="93.80" y1="367.90" x2="98.60" y2="367.90" stroke="#000" stroke-width="1.0" />
<line x1="95.30" y1="370.40" x2="98.60" y2="370.40" stroke="#000" stroke-width="1.0" />
<line x1="95.30" y1="372.90" x2="98.60" y2="372.90" stroke="#000" stroke-width="1.0" />
<line x1="93.80" y1="375.40" x2="98.60" y2="375.40" stroke="#000" stroke-width="1.0" />
<line x1="95.30" y1="377.90" x2="98.60" y2="377.90" stroke="#000" stroke-width="1.0" />
<line x1="95.30" y1="380.40" x2="98.60" y2="380.40" stroke="#000" stroke-width="1.0" />
<line x1="95.30" y1="385.40" x2="98.60" y2="385.40" stroke="#000" stroke-width="1.0" />
<line x1="95.30" y1="387.90" x2="98.60" y2="387.90" stroke="#000" stroke-width="1.0" />
<line x1="99.90" y1="390.90" x2="99.90" y2="397.50" stroke="#000" stroke-width="1.3" />
<line x1="111.90" y1="390.90" x2="111.90" y2="397.50" stroke="#000" stroke-width="1.3" />
<text x="112.40" y="410.80" font-size="10" text-anchor="middle" font-weight="normal" font-style="normal" fill="#000" stroke="#000" stroke-width="0.25">0</text>
<line x1="125.70" y1="390.90" x2="125.70" y2="397.50" stroke="#000" stroke-width="1.3" />
<text x="122.50" y="410.80" font-size="10" text-anchor="start" font-weight="normal" font-style="normal" fill="#000" stroke="#000" stroke-width="0.25">10<tspan font-size="6.8" dy="-3.3">2</tspan></text>
<line x1="157.20" y1="390.90" x2="157.20" y2="397.50" stroke="#000" stroke-width="1.3" />
<text x="153.00" y="410.80" font-size="10" text-anchor="start" font-weight="normal" font-style="normal" fill="#000" stroke="#000" stroke-width="0.25">10<tspan font-size="6.8" dy="-3.3">3</tspan></text>
<line x1="187.40" y1="390.90" x2="187.40" y2="397.50" stroke="#000" stroke-width="1.3" />
<text x="183.20" y="410.80" font-size="10" text-anchor="start" font-weight="normal" font-style="normal" fill="#000" stroke="#000" stroke-width="0.25">10<tspan font-size="6.8" dy="-3.3">4</tspan></text>
<line x1="217.70" y1="390.90" x2="217.70" y2="397.50" stroke="#000" stroke-width="1.3" />
<text x="213.50" y="410.80" font-size="10" text-anchor="start" font-weight="normal" font-style="normal" fill="#000" stroke="#000" stroke-width="0.25">10<tspan font-size="6.8" dy="-3.3">5</tspan></text>
<line x1="228.00" y1="390.90" x2="228.00" y2="394.90" stroke="#000" stroke-width="1" />
<line x1="135.18" y1="390.90" x2="135.18" y2="394.20" stroke="#000" stroke-width="1" />
<line x1="140.73" y1="390.90" x2="140.73" y2="394.20" stroke="#000" stroke-width="1" />
<line x1="144.66" y1="390.90" x2="144.66" y2="394.20" stroke="#000" stroke-width="1" />
<line x1="147.72" y1="390.90" x2="147.72" y2="394.20" stroke="#000" stroke-width="1" />
<line x1="150.21" y1="390.90" x2="150.21" y2="394.20" stroke="#000" stroke-width="1" />
<line x1="152.32" y1="390.90" x2="152.32" y2="394.20" stroke="#000" stroke-width="1" />
<line x1="154.15" y1="390.90" x2="154.15" y2="394.20" stroke="#000" stroke-width="1" />
<line x1="155.76" y1="390.90" x2="155.76" y2="394.20" stroke="#000" stroke-width="1" />
<line x1="166.29" y1="390.90" x2="166.29" y2="394.20" stroke="#000" stroke-width="1" />
<line x1="171.61" y1="390.90" x2="171.61" y2="394.20" stroke="#000" stroke-width="1" />
<line x1="175.38" y1="390.90" x2="175.38" y2="394.20" stroke="#000" stroke-width="1" />
<line x1="178.31" y1="390.90" x2="178.31" y2="394.20" stroke="#000" stroke-width="1" />
<line x1="180.70" y1="390.90" x2="180.70" y2="394.20" stroke="#000" stroke-width="1" />
<line x1="182.72" y1="390.90" x2="182.72" y2="394.20" stroke="#000" stroke-width="1" />
<line x1="184.47" y1="390.90" x2="184.47" y2="394.20" stroke="#000" stroke-width="1" />
<line x1="186.02" y1="390.90" x2="186.02" y2="394.20" stroke="#000" stroke-width="1" />
<line x1="196.52" y1="390.90" x2="196.52" y2="394.20" stroke="#000" stroke-width="1" />
<line x1="201.86" y1="390.90" x2="201.86" y2="394.20" stroke="#000" stroke-width="1" />
<line x1="205.64" y1="390.90" x2="205.64" y2="394.20" stroke="#000" stroke-width="1" />
<line x1="208.58" y1="390.90" x2="208.58" y2="394.20" stroke="#000" stroke-width="1" />
<line x1="210.98" y1="390.90" x2="210.98" y2="394.20" stroke="#000" stroke-width="1" />
<line x1="213.01" y1="390.90" x2="213.01" y2="394.20" stroke="#000" stroke-width="1" />
<line x1="214.76" y1="390.90" x2="214.76" y2="394.20" stroke="#000" stroke-width="1" />
<line x1="216.31" y1="390.90" x2="216.31" y2="394.20" stroke="#000" stroke-width="1" />
<line x1="101.40" y1="390.90" x2="101.40" y2="395.70" stroke="#000" stroke-width="1.0" />
<line x1="103.70" y1="390.90" x2="103.70" y2="394.20" stroke="#000" stroke-width="1.0" />
<line x1="106.00" y1="390.90" x2="106.00" y2="394.20" stroke="#000" stroke-width="1.0" />
<line x1="108.30" y1="390.90" x2="108.30" y2="395.70" stroke="#000" stroke-width="1.0" />
<line x1="110.60" y1="390.90" x2="110.60" y2="394.20" stroke="#000" stroke-width="1.0" />
<line x1="115.20" y1="390.90" x2="115.20" y2="395.70" stroke="#000" stroke-width="1.0" />
<line x1="117.50" y1="390.90" x2="117.50" y2="394.20" stroke="#000" stroke-width="1.0" />
<line x1="119.80" y1="390.90" x2="119.80" y2="394.20" stroke="#000" stroke-width="1.0" />
<line x1="122.10" y1="390.90" x2="122.10" y2="395.70" stroke="#000" stroke-width="1.0" />
<line x1="124.40" y1="390.90" x2="124.40" y2="394.20" stroke="#000" stroke-width="1.0" />
<path d="M358 290.5h1M380 292.5h1M353 293.5h1M374 293.5h1M382 293.5h1M357 294.5h1M367 294.5h1M374 295.5h1M357 296.5h1M365 296.5h1M367 297.5h1M375 297.5h1M365 298.5h1M374 298.5h1M381 298.5h1M346 299.5h1M364 299.5h1M368 299.5h1M370 299.5h1M372 299.5h1M377 299.5h2M381 299.5h1M355 300.5h1M360 300.5h1M365 300.5h1M369 300.5h1M373 300.5h1M353 301.5h1M356 301.5h1M363 301.5h1M369 301.5h1M371 301.5h1M373 301.5h1M379 301.5h1M347 302.5h1M350 302.5h1M359 302.5h3M363 302.5h1M366 302.5h1M384 302.5h1M350 303.5h1M355 303.5h2M361 303.5h1M364 303.5h1M366 303.5h1M368 303.5h2M373 303.5h1M378 303.5h1M347 304.5h1M351 304.5h1M353 304.5h1M358 304.5h4M363 304.5h4M369 304.5h1M378 304.5h2M348 305.5h1M352 305.5h1M354 305.5h1M356 305.5h3M360 305.5h1M363 305.5h1M366 305.5h3M348 306.5h2M351 306.5h2M354 306.5h1M357 306.5h2M360 306.5h1M362 306.5h4M343 307.5h1M349 307.5h2M353 307.5h3M359 307.5h3M363 307.5h2M366 307.5h2M375 307.5h1M381 307.5h1M345 308.5h4M350 308.5h3M354 308.5h5M360 308.5h2M367 308.5h2M371 308.5h1M375 308.5h1M349 309.5h1M352 309.5h1M354 309.5h1M356 309.5h2M359 309.5h2M362 309.5h3M368 309.5h1M348 310.5h2M351 310.5h2M354 310.5h3M360 310.5h1M365 310.5h2M370 310.5h1M376 310.5h1M347 311.5h2M350 311.5h2M353 311.5h7M361 311.5h2M343 312.5h1M345 312.5h9M355 312.5h2M358 312.5h4M369 312.5h1M371 312.5h1M345 313.5h14M360 313.5h2M363 313.5h1M365 313.5h1M367 313.5h2M346 314.5h13M360 314.5h1M362 314.5h1M364 314.5h2M344 315.5h1M349 315.5h10M360 315.5h1M362 315.5h5M342 316.5h1M346 316.5h5M352 316.5h1M354 316.5h6M363 316.5h3M367 316.5h1M341 317.5h1M344 317.5h1M346 317.5h2M349 317.5h14M344 318.5h20M366 318.5h2M369 318.5h1M346 319.5h8M355 319.5h6M362 319.5h1M365 319.5h1M368 319.5h1M342 320.5h2M347 320.5h15M363 320.5h1M365 320.5h3M371 320.5h1M341 321.5h1M344 321.5h14M359 321.5h4M365 321.5h1M368 321.5h1M343 322.5h4M348 322.5h12M362 322.5h1M364 322.5h1M341 323.5h1M345 323.5h1M347 323.5h14M363 323.5h2M340 324.5h2M343 324.5h1M345 324.5h11M357 324.5h7M367 324.5h1M370 324.5h1M385 324.5h1M339 325.5h1M342 325.5h2M345 325.5h16M363 325.5h1M365 325.5h1M341 326.5h1M345 326.5h1M347 326.5h14M365 326.5h1M380 326.5h1M339 327.5h1M344 327.5h14M359 327.5h3M344 328.5h18M367 328.5h1M343 329.5h17M362 329.5h2M365 329.5h1M370 329.5h1M343 330.5h1M346 330.5h14M361 330.5h1M366 330.5h1M343 331.5h17M361 331.5h2M367 331.5h1M344 332.5h13M358 332.5h1M360 332.5h1M367 332.5h1M341 333.5h1M344 333.5h3M348 333.5h12M338 334.5h1M343 334.5h1M345 334.5h12M358 334.5h1M360 334.5h1M362 334.5h1M367 334.5h1M335 335.5h1M338 335.5h1M340 335.5h1M343 335.5h17M363 335.5h1M337 336.5h1M339 336.5h2M342 336.5h1M344 336.5h12M357 336.5h4M329 337.5h1M333 337.5h1M336 337.5h5M342 337.5h6M349 337.5h8M328 338.5h1M332 338.5h1M336 338.5h1M338 338.5h1M343 338.5h1M345 338.5h12M359 338.5h1M368 338.5h1M328 339.5h1M331 339.5h4M336 339.5h3M347 339.5h4M352 339.5h5M358 339.5h1M361 339.5h1M327 340.5h1M329 340.5h1M331 340.5h2M334 340.5h1M337 340.5h3M342 340.5h1M344 340.5h2M348 340.5h10M359 340.5h1M314 341.5h1M327 341.5h4M332 341.5h5M341 341.5h1M344 341.5h12M358 341.5h1M365 341.5h1M369 341.5h2M378 341.5h1M312 342.5h1M326 342.5h1M328 342.5h2M331 342.5h1M333 342.5h1M335 342.5h1M337 342.5h1M340 342.5h1M346 342.5h9M356 342.5h3M361 342.5h1M366 342.5h1M316 343.5h1M319 343.5h2M325 343.5h1M328 343.5h8M338 343.5h1M340 343.5h1M344 343.5h2M347 343.5h7M355 343.5h1M357 343.5h1M359 343.5h1M363 343.5h1M311 344.5h1M322 344.5h1M328 344.5h8M342 344.5h1M346 344.5h1M352 344.5h2M355 344.5h1M359 344.5h1M372 344.5h1M376 344.5h1M318 345.5h1M322 345.5h1M326 345.5h8M335 345.5h1M338 345.5h1M346 345.5h4M352 345.5h1M357 345.5h1M360 345.5h1M367 345.5h1M371 345.5h1M311 346.5h1M322 346.5h11M334 346.5h1M336 346.5h1M344 346.5h1M347 346.5h1M349 346.5h1M351 346.5h1M353 346.5h5M362 346.5h1M364 346.5h1M367 346.5h3M324 347.5h2M327 347.5h5M333 347.5h2M338 347.5h1M344 347.5h1M346 347.5h1M348 347.5h1M350 347.5h1M354 347.5h4M362 347.5h2M365 347.5h1M367 347.5h1M311 348.5h1M318 348.5h1M320 348.5h4M325 348.5h7M333 348.5h1M335 348.5h1M350 348.5h1M352 348.5h1M356 348.5h1M366 348.5h3M370 348.5h1M375 348.5h1M309 349.5h1M311 349.5h1M313 349.5h1M319 349.5h10M330 349.5h2M334 349.5h1M346 349.5h2M352 349.5h1M355 349.5h1M358 349.5h1M364 349.5h1M366 349.5h2M369 349.5h2M385 349.5h1M317 350.5h8M326 350.5h2M329 350.5h1M331 350.5h1M340 350.5h1M349 350.5h3M354 350.5h1M370 350.5h1M373 350.5h1M375 350.5h1M307 351.5h2M315 351.5h1M317 351.5h9M327 351.5h2M341 351.5h1M349 351.5h1M355 351.5h1M358 351.5h1M361 351.5h1M365 351.5h4M371 351.5h1M375 351.5h2M378 351.5h3M394 351.5h1M314 352.5h5M320 352.5h3M325 352.5h3M330 352.5h1M333 352.5h4M339 352.5h2M342 352.5h1M346 352.5h1M355 352.5h1M357 352.5h2M360 352.5h2M365 352.5h6M372 352.5h3M378 352.5h1M389 352.5h1M393 352.5h1M309 353.5h2M312 353.5h13M326 353.5h2M329 353.5h1M331 353.5h1M343 353.5h1M345 353.5h2M351 353.5h1M357 353.5h1M362 353.5h2M365 353.5h4M370 353.5h1M372 353.5h1M312 354.5h1M314 354.5h12M327 354.5h1M340 354.5h2M344 354.5h2M348 354.5h1M351 354.5h2M355 354.5h2M360 354.5h1M362 354.5h1M364 354.5h1M366 354.5h6M373 354.5h1M375 354.5h1M377 354.5h1M385 354.5h1M303 355.5h1M308 355.5h2M311 355.5h1M313 355.5h13M327 355.5h1M330 355.5h2M333 355.5h3M341 355.5h1M344 355.5h2M349 355.5h1M351 355.5h2M357 355.5h14M372 355.5h4M377 355.5h1M380 355.5h1M304 356.5h1M309 356.5h12M322 356.5h6M329 356.5h1M336 356.5h2M341 356.5h1M343 356.5h1M346 356.5h1M350 356.5h1M355 356.5h2M361 356.5h13M375 356.5h1M383 356.5h1M305 357.5h1M310 357.5h17M330 357.5h2M334 357.5h1M336 357.5h2M342 357.5h2M345 357.5h2M348 357.5h3M356 357.5h1M358 357.5h9M368 357.5h8M377 357.5h3M287 358.5h1M303 358.5h1M307 358.5h1M309 358.5h13M328 358.5h2M331 358.5h1M333 358.5h1M336 358.5h2M339 358.5h1M341 358.5h2M344 358.5h5M351 358.5h1M356 358.5h2M360 358.5h16M378 358.5h1M283 359.5h1M286 359.5h1M293 359.5h1M306 359.5h2M311 359.5h13M326 359.5h1M328 359.5h1M332 359.5h2M336 359.5h2M341 359.5h3M346 359.5h1M348 359.5h1M351 359.5h1M353 359.5h1M357 359.5h1M359 359.5h1M361 359.5h16M378 359.5h1M380 359.5h2M288 360.5h1M301 360.5h1M303 360.5h1M305 360.5h12M318 360.5h7M326 360.5h2M329 360.5h3M334 360.5h3M338 360.5h1M341 360.5h2M344 360.5h4M349 360.5h1M351 360.5h1M353 360.5h3M357 360.5h2M361 360.5h16M378 360.5h2M382 360.5h1M281 361.5h1M290 361.5h1M293 361.5h1M298 361.5h1M300 361.5h1M303 361.5h3M307 361.5h4M312 361.5h4M318 361.5h1M321 361.5h1M323 361.5h1M325 361.5h2M328 361.5h4M333 361.5h1M335 361.5h1M338 361.5h1M340 361.5h2M343 361.5h1M347 361.5h1M349 361.5h3M355 361.5h1M358 361.5h19M378 361.5h1M382 361.5h1M279 362.5h1M281 362.5h1M283 362.5h2M286 362.5h3M291 362.5h3M299 362.5h1M301 362.5h1M303 362.5h3M307 362.5h2M311 362.5h2M314 362.5h2M321 362.5h1M323 362.5h2M326 362.5h1M330 362.5h1M332 362.5h1M336 362.5h1M338 362.5h2M341 362.5h1M345 362.5h1M347 362.5h1M354 362.5h1M358 362.5h17M376 362.5h2M273 363.5h1M280 363.5h2M283 363.5h1M285 363.5h1M287 363.5h6M294 363.5h13M308 363.5h6M317 363.5h4M322 363.5h1M324 363.5h1M326 363.5h2M330 363.5h1M332 363.5h1M336 363.5h3M342 363.5h2M345 363.5h1M348 363.5h3M352 363.5h1M355 363.5h23M380 363.5h1M277 364.5h3M281 364.5h4M286 364.5h6M293 364.5h1M296 364.5h4M301 364.5h14M316 364.5h2M319 364.5h2M322 364.5h1M324 364.5h2M327 364.5h3M332 364.5h1M334 364.5h2M339 364.5h6M346 364.5h1M348 364.5h3M352 364.5h2M356 364.5h1M358 364.5h19M379 364.5h1M272 365.5h1M275 365.5h2M282 365.5h32M315 365.5h1M317 365.5h5M324 365.5h1M326 365.5h2M329 365.5h4M335 365.5h12M348 365.5h1M350 365.5h4M357 365.5h20M272 366.5h1M275 366.5h1M277 366.5h41M321 366.5h7M330 366.5h1M333 366.5h9M343 366.5h1M345 366.5h3M349 366.5h30M276 367.5h2M279 367.5h1M281 367.5h37M319 367.5h2M322 367.5h9M332 367.5h7M340 367.5h13M354 367.5h4M359 367.5h19M379 367.5h1M393 367.5h1M395 367.5h1M272 368.5h1M276 368.5h64M341 368.5h17M359 368.5h19M379 368.5h1M386 368.5h1M274 369.5h45M320 369.5h1M322 369.5h2M325 369.5h5M332 369.5h4M337 369.5h20M358 369.5h22M382 369.5h1M273 370.5h2M276 370.5h1M278 370.5h37M316 370.5h6M324 370.5h3M328 370.5h27M356 370.5h19M376 370.5h3M381 370.5h1M273 371.5h1M275 371.5h49M325 371.5h36M362 371.5h16M272 372.5h46M319 372.5h37M357 372.5h21M380 372.5h1M272 373.5h46M319 373.5h9M329 373.5h48M272 374.5h47M321 374.5h4M326 374.5h28M355 374.5h3M359 374.5h15M375 374.5h3M387 374.5h1M273 375.5h51M325 375.5h33M359 375.5h15M380 375.5h1M272 376.5h3M276 376.5h43M323 376.5h2M327 376.5h27M355 376.5h5M361 376.5h15M377 376.5h1M274 377.5h2M277 377.5h36M314 377.5h1M316 377.5h2M319 377.5h38M358 377.5h6M365 377.5h1M367 377.5h8M377 377.5h1M379 377.5h1M272 378.5h2M275 378.5h35M312 378.5h6M319 378.5h5M325 378.5h1M327 378.5h32M360 378.5h1M362 378.5h9M372 378.5h1M374 378.5h2M391 378.5h1M278 379.5h2M281 379.5h28M310 379.5h5M317 379.5h2M322 379.5h1M328 379.5h23M352 379.5h2M358 379.5h1M362 379.5h1M364 379.5h2M367 379.5h1M369 379.5h2M372 379.5h2M375 379.5h1M273 380.5h1M276 380.5h2M279 380.5h3M283 380.5h2M286 380.5h4M291 380.5h6M298 380.5h10M310 380.5h1M313 380.5h1M317 380.5h1M328 380.5h2M331 380.5h25M357 380.5h1M359 380.5h2M362 380.5h3M366 380.5h2M369 380.5h2M372 380.5h3M273 381.5h2M277 381.5h7M285 381.5h5M292 381.5h16M309 381.5h1M312 381.5h1M315 381.5h1M319 381.5h2M324 381.5h2M327 381.5h1M329 381.5h2M333 381.5h16M350 381.5h3M354 381.5h1M357 381.5h1M360 381.5h1M363 381.5h2M368 381.5h1M373 381.5h2M273 382.5h1M279 382.5h3M285 382.5h1M289 382.5h13M303 382.5h2M307 382.5h1M311 382.5h1M316 382.5h1M318 382.5h2M328 382.5h2M331 382.5h2M334 382.5h1M337 382.5h3M342 382.5h1M344 382.5h1M346 382.5h4M351 382.5h1M353 382.5h1M356 382.5h1M367 382.5h2M370 382.5h1M391 382.5h1M275 383.5h1M279 383.5h1M281 383.5h1M283 383.5h1M287 383.5h5M294 383.5h1M297 383.5h3M302 383.5h2M305 383.5h1M309 383.5h1M311 383.5h2M315 383.5h1M330 383.5h1M333 383.5h1M343 383.5h5M349 383.5h1M360 383.5h1M365 383.5h2M370 383.5h1M285 384.5h1M291 384.5h1M294 384.5h2M303 384.5h1M314 384.5h1M334 384.5h1M336 384.5h1M348 384.5h1M357 384.5h1M361 384.5h1M364 384.5h1M369 384.5h1M274 385.5h1M302 385.5h3M315 385.5h1M331 385.5h1M343 385.5h1M360 385.5h1M372 385.5h2M281 386.5h1M301 386.5h1M306 386.5h1M313 386.5h1M318 386.5h1M333 386.5h1M373 386.5h1M291 387.5h1M295 387.5h1M298 387.5h1M370 387.5h1M336 388.5h1M302 389.5h1M369 389.5h1" stroke="#000" stroke-width="1" fill="none" shape-rendering="crispEdges"/>
<rect x="270.20" y="269.30" width="132" height="121.6" fill="none" stroke="#333" stroke-width="1"/>
<rect x="339.30" y="287.30" width="47.50" height="61.10" fill="none" stroke="#000" stroke-width="1.4"/>
<text x="292.30" y="313.90" font-size="14.6" text-anchor="start" font-weight="normal" font-style="normal" fill="#000" >14.1%</text>
<line x1="263.60" y1="282.10" x2="270.20" y2="282.10" stroke="#000" stroke-width="1.3" />
<text x="244.60" y="285.70" font-size="10" text-anchor="start" font-weight="normal" font-style="normal" fill="#000" stroke="#000" stroke-width="0.25">10<tspan font-size="6.8" dy="-3.3">5</tspan></text>
<line x1="263.60" y1="309.50" x2="270.20" y2="309.50" stroke="#000" stroke-width="1.3" />
<text x="244.60" y="313.10" font-size="10" text-anchor="start" font-weight="normal" font-style="normal" fill="#000" stroke="#000" stroke-width="0.25">10<tspan font-size="6.8" dy="-3.3">4</tspan></text>
<line x1="263.60" y1="337.10" x2="270.20" y2="337.10" stroke="#000" stroke-width="1.3" />
<text x="244.60" y="340.70" font-size="10" text-anchor="start" font-weight="normal" font-style="normal" fill="#000" stroke="#000" stroke-width="0.25">10<tspan font-size="6.8" dy="-3.3">3</tspan></text>
<line x1="263.60" y1="366.20" x2="270.20" y2="366.20" stroke="#000" stroke-width="1.3" />
<text x="244.60" y="369.80" font-size="10" text-anchor="start" font-weight="normal" font-style="normal" fill="#000" stroke="#000" stroke-width="0.25">10<tspan font-size="6.8" dy="-3.3">2</tspan></text>
<line x1="263.60" y1="381.70" x2="270.20" y2="381.70" stroke="#000" stroke-width="1.3" />
<text x="248.70" y="385.30" font-size="10" text-anchor="start" font-weight="normal" font-style="normal" fill="#000" stroke="#000" stroke-width="0.25">0</text>
<line x1="263.60" y1="389.90" x2="270.20" y2="389.90" stroke="#000" stroke-width="1.3" />
<line x1="266.90" y1="301.25" x2="270.20" y2="301.25" stroke="#000" stroke-width="1" />
<line x1="266.90" y1="296.43" x2="270.20" y2="296.43" stroke="#000" stroke-width="1" />
<line x1="266.90" y1="293.00" x2="270.20" y2="293.00" stroke="#000" stroke-width="1" />
<line x1="266.90" y1="290.35" x2="270.20" y2="290.35" stroke="#000" stroke-width="1" />
<line x1="266.90" y1="288.18" x2="270.20" y2="288.18" stroke="#000" stroke-width="1" />
<line x1="266.90" y1="286.34" x2="270.20" y2="286.34" stroke="#000" stroke-width="1" />
<line x1="266.90" y1="284.76" x2="270.20" y2="284.76" stroke="#000" stroke-width="1" />
<line x1="266.90" y1="283.35" x2="270.20" y2="283.35" stroke="#000" stroke-width="1" />
<line x1="266.90" y1="328.79" x2="270.20" y2="328.79" stroke="#000" stroke-width="1" />
<line x1="266.90" y1="323.93" x2="270.20" y2="323.93" stroke="#000" stroke-width="1" />
<line x1="266.90" y1="320.48" x2="270.20" y2="320.48" stroke="#000" stroke-width="1" />
<line x1="266.90" y1="317.81" x2="270.20" y2="317.81" stroke="#000" stroke-width="1" />
<line x1="266.90" y1="315.62" x2="270.20" y2="315.62" stroke="#000" stroke-width="1" />
<line x1="266.90" y1="313.78" x2="270.20" y2="313.78" stroke="#000" stroke-width="1" />
<line x1="266.90" y1="312.17" x2="270.20" y2="312.17" stroke="#000" stroke-width="1" />
<line x1="266.90" y1="310.76" x2="270.20" y2="310.76" stroke="#000" stroke-width="1" />
<line x1="266.90" y1="357.44" x2="270.20" y2="357.44" stroke="#000" stroke-width="1" />
<line x1="266.90" y1="352.32" x2="270.20" y2="352.32" stroke="#000" stroke-width="1" />
<line x1="266.90" y1="348.68" x2="270.20" y2="348.68" stroke="#000" stroke-width="1" />
<line x1="266.90" y1="345.86" x2="270.20" y2="345.86" stroke="#000" stroke-width="1" />
<line x1="266.90" y1="343.56" x2="270.20" y2="343.56" stroke="#000" stroke-width="1" />
<line x1="266.90" y1="341.61" x2="270.20" y2="341.61" stroke="#000" stroke-width="1" />
<line x1="266.90" y1="339.92" x2="270.20" y2="339.92" stroke="#000" stroke-width="1" />
<line x1="266.90" y1="338.43" x2="270.20" y2="338.43" stroke="#000" stroke-width="1" />
<line x1="266.90" y1="273.85" x2="270.20" y2="273.85" stroke="#000" stroke-width="1" />
<line x1="265.40" y1="367.90" x2="270.20" y2="367.90" stroke="#000" stroke-width="1.0" />
<line x1="266.90" y1="370.40" x2="270.20" y2="370.40" stroke="#000" stroke-width="1.0" />
<line x1="266.90" y1="372.90" x2="270.20" y2="372.90" stroke="#000" stroke-width="1.0" />
<line x1="265.40" y1="375.40" x2="270.20" y2="375.40" stroke="#000" stroke-width="1.0" />
<line x1="266.90" y1="377.90" x2="270.20" y2="377.90" stroke="#000" stroke-width="1.0" />
<line x1="266.90" y1="380.40" x2="270.20" y2="380.40" stroke="#000" stroke-width="1.0" />
<line x1="266.90" y1="385.40" x2="270.20" y2="385.40" stroke="#000" stroke-width="1.0" />
<line x1="266.90" y1="387.90" x2="270.20" y2="387.90" stroke="#000" stroke-width="1.0" />
<line x1="271.50" y1="390.90" x2="271.50" y2="397.50" stroke="#000" stroke-width="1.3" />
<line x1="283.50" y1="390.90" x2="283.50" y2="397.50" stroke="#000" stroke-width="1.3" />
<text x="284.00" y="410.80" font-size="10" text-anchor="middle" font-weight="normal" font-style="normal" fill="#000" stroke="#000" stroke-width="0.25">0</text>
<line x1="297.30" y1="390.90" x2="297.30" y2="397.50" stroke="#000" stroke-width="1.3" />
<text x="294.10" y="410.80" font-size="10" text-anchor="start" font-weight="normal" font-style="normal" fill="#000" stroke="#000" stroke-width="0.25">10<tspan font-size="6.8" dy="-3.3">2</tspan></text>
<line x1="328.80" y1="390.90" x2="328.80" y2="397.50" stroke="#000" stroke-width="1.3" />
<text x="324.60" y="410.80" font-size="10" text-anchor="start" font-weight="normal" font-style="normal" fill="#000" stroke="#000" stroke-width="0.25">10<tspan font-size="6.8" dy="-3.3">3</tspan></text>
<line x1="359.00" y1="390.90" x2="359.00" y2="397.50" stroke="#000" stroke-width="1.3" />
<text x="354.80" y="410.80" font-size="10" text-anchor="start" font-weight="normal" font-style="normal" fill="#000" stroke="#000" stroke-width="0.25">10<tspan font-size="6.8" dy="-3.3">4</tspan></text>
<line x1="389.30" y1="390.90" x2="389.30" y2="397.50" stroke="#000" stroke-width="1.3" />
<text x="385.10" y="410.80" font-size="10" text-anchor="start" font-weight="normal" font-style="normal" fill="#000" stroke="#000" stroke-width="0.25">10<tspan font-size="6.8" dy="-3.3">5</tspan></text>
<line x1="399.60" y1="390.90" x2="399.60" y2="394.90" stroke="#000" stroke-width="1" />
<line x1="306.78" y1="390.90" x2="306.78" y2="394.20" stroke="#000" stroke-width="1" />
<line x1="312.33" y1="390.90" x2="312.33" y2="394.20" stroke="#000" stroke-width="1" />
<line x1="316.26" y1="390.90" x2="316.26" y2="394.20" stroke="#000" stroke-width="1" />
<line x1="319.32" y1="390.90" x2="319.32" y2="394.20" stroke="#000" stroke-width="1" />
<line x1="321.81" y1="390.90" x2="321.81" y2="394.20" stroke="#000" stroke-width="1" />
<line x1="323.92" y1="390.90" x2="323.92" y2="394.20" stroke="#000" stroke-width="1" />
<line x1="325.75" y1="390.90" x2="325.75" y2="394.20" stroke="#000" stroke-width="1" />
<line x1="327.36" y1="390.90" x2="327.36" y2="394.20" stroke="#000" stroke-width="1" />
<line x1="337.89" y1="390.90" x2="337.89" y2="394.20" stroke="#000" stroke-width="1" />
<line x1="343.21" y1="390.90" x2="343.21" y2="394.20" stroke="#000" stroke-width="1" />
<line x1="346.98" y1="390.90" x2="346.98" y2="394.20" stroke="#000" stroke-width="1" />
<line x1="349.91" y1="390.90" x2="349.91" y2="394.20" stroke="#000" stroke-width="1" />
<line x1="352.30" y1="390.90" x2="352.30" y2="394.20" stroke="#000" stroke-width="1" />
<line x1="354.32" y1="390.90" x2="354.32" y2="394.20" stroke="#000" stroke-width="1" />
<line x1="356.07" y1="390.90" x2="356.07" y2="394.20" stroke="#000" stroke-width="1" />
<line x1="357.62" y1="390.90" x2="357.62" y2="394.20" stroke="#000" stroke-width="1" />
<line x1="368.12" y1="390.90" x2="368.12" y2="394.20" stroke="#000" stroke-width="1" />
<line x1="373.46" y1="390.90" x2="373.46" y2="394.20" stroke="#000" stroke-width="1" />
<line x1="377.24" y1="390.90" x2="377.24" y2="394.20" stroke="#000" stroke-width="1" />
<line x1="380.18" y1="390.90" x2="380.18" y2="394.20" stroke="#000" stroke-width="1" />
<line x1="382.58" y1="390.90" x2="382.58" y2="394.20" stroke="#000" stroke-width="1" />
<line x1="384.61" y1="390.90" x2="384.61" y2="394.20" stroke="#000" stroke-width="1" />
<line x1="386.36" y1="390.90" x2="386.36" y2="394.20" stroke="#000" stroke-width="1" />
<line x1="387.91" y1="390.90" x2="387.91" y2="394.20" stroke="#000" stroke-width="1" />
<line x1="273.00" y1="390.90" x2="273.00" y2="395.70" stroke="#000" stroke-width="1.0" />
<line x1="275.30" y1="390.90" x2="275.30" y2="394.20" stroke="#000" stroke-width="1.0" />
<line x1="277.60" y1="390.90" x2="277.60" y2="394.20" stroke="#000" stroke-width="1.0" />
<line x1="279.90" y1="390.90" x2="279.90" y2="395.70" stroke="#000" stroke-width="1.0" />
<line x1="282.20" y1="390.90" x2="282.20" y2="394.20" stroke="#000" stroke-width="1.0" />
<line x1="286.80" y1="390.90" x2="286.80" y2="395.70" stroke="#000" stroke-width="1.0" />
<line x1="289.10" y1="390.90" x2="289.10" y2="394.20" stroke="#000" stroke-width="1.0" />
<line x1="291.40" y1="390.90" x2="291.40" y2="394.20" stroke="#000" stroke-width="1.0" />
<line x1="293.70" y1="390.90" x2="293.70" y2="395.70" stroke="#000" stroke-width="1.0" />
<line x1="296.00" y1="390.90" x2="296.00" y2="394.20" stroke="#000" stroke-width="1.0" />
<path d="M196 453.5h1M199 459.5h1M189 466.5h1M194 466.5h1M197 466.5h1M200 466.5h1M204 466.5h1M181 467.5h1M194 467.5h1M198 467.5h1M186 468.5h1M194 468.5h1M197 468.5h1M200 468.5h1M191 469.5h1M195 469.5h1M200 469.5h1M210 469.5h1M191 470.5h1M193 470.5h2M196 470.5h3M189 471.5h1M194 471.5h2M197 471.5h2M186 472.5h1M191 472.5h1M194 472.5h2M199 472.5h1M194 473.5h1M186 474.5h1M190 474.5h1M195 474.5h1M188 475.5h1M190 475.5h1M196 476.5h1M203 477.5h1M185 479.5h1M191 481.5h1M186 483.5h1M199 483.5h1M182 484.5h1M184 486.5h1M206 486.5h1M183 487.5h1M163 494.5h1M165 494.5h1M165 495.5h1M173 495.5h1M161 496.5h1M163 496.5h1M198 496.5h1M104 497.5h1M108 497.5h1M160 497.5h1M210 497.5h1M161 498.5h1M165 498.5h1M161 499.5h1M162 500.5h3M166 500.5h1M160 501.5h1M161 502.5h1M166 502.5h1M168 502.5h1M157 503.5h3M161 503.5h2M166 503.5h1M186 503.5h1M214 503.5h1M150 504.5h1M159 504.5h1M169 504.5h1M180 504.5h1M105 505.5h1M158 505.5h3M162 505.5h1M145 506.5h1M157 506.5h1M159 506.5h2M162 506.5h1M189 506.5h1M147 507.5h2M154 507.5h1M158 507.5h2M164 507.5h1M166 507.5h1M181 507.5h1M186 507.5h1M220 507.5h1M141 508.5h2M148 508.5h1M151 508.5h1M156 508.5h1M168 508.5h2M171 508.5h1M181 508.5h1M117 509.5h1M139 509.5h1M148 509.5h1M150 509.5h1M153 509.5h5M177 509.5h1M196 509.5h1M199 509.5h1M157 510.5h2M160 510.5h1M171 510.5h1M207 510.5h1M150 511.5h1M153 511.5h1M155 511.5h2M178 511.5h1M195 511.5h1M149 512.5h1M162 512.5h1M187 512.5h1M193 512.5h1M135 513.5h1M148 513.5h2M153 513.5h2M159 513.5h1M192 513.5h1M208 513.5h1M214 513.5h1M142 514.5h1M147 514.5h1M152 514.5h3M158 514.5h1M162 514.5h2M167 514.5h1M180 514.5h2M200 514.5h1M147 515.5h1M152 515.5h3M159 515.5h1M161 515.5h1M165 515.5h2M200 515.5h1M151 516.5h5M161 516.5h1M164 516.5h1M173 516.5h1M188 516.5h1M127 517.5h1M147 517.5h1M152 517.5h3M160 517.5h1M169 517.5h1M174 517.5h1M182 517.5h1M132 518.5h1M147 518.5h1M149 518.5h3M153 518.5h4M167 518.5h1M169 518.5h1M197 518.5h1M142 519.5h1M147 519.5h1M149 519.5h1M152 519.5h1M154 519.5h1M156 519.5h4M168 519.5h1M180 519.5h1M188 519.5h3M199 519.5h1M146 520.5h2M149 520.5h1M151 520.5h1M153 520.5h2M157 520.5h1M159 520.5h1M161 520.5h1M163 520.5h2M171 520.5h1M173 520.5h1M178 520.5h1M119 521.5h1M135 521.5h1M144 521.5h1M147 521.5h1M150 521.5h1M153 521.5h1M156 521.5h1M169 521.5h1M173 521.5h1M177 521.5h1M185 521.5h1M188 521.5h2M205 521.5h1M135 522.5h1M141 522.5h2M146 522.5h2M155 522.5h1M163 522.5h1M172 522.5h1M203 522.5h1M132 523.5h1M143 523.5h3M148 523.5h1M152 523.5h1M158 523.5h1M161 523.5h1M163 523.5h1M166 523.5h1M178 523.5h1M186 523.5h1M193 523.5h1M198 523.5h1M203 523.5h1M211 523.5h1M136 524.5h1M141 524.5h1M143 524.5h2M147 524.5h4M152 524.5h1M154 524.5h1M156 524.5h1M158 524.5h1M160 524.5h1M162 524.5h1M164 524.5h1M168 524.5h1M184 524.5h1M187 524.5h1M193 524.5h1M121 525.5h1M124 525.5h1M130 525.5h2M139 525.5h1M144 525.5h3M148 525.5h2M153 525.5h1M156 525.5h2M162 525.5h1M181 525.5h1M188 525.5h1M190 525.5h1M193 525.5h1M197 525.5h1M199 525.5h1M225 525.5h2M120 526.5h1M126 526.5h2M129 526.5h4M135 526.5h3M139 526.5h2M146 526.5h4M151 526.5h2M155 526.5h1M159 526.5h1M162 526.5h2M166 526.5h1M168 526.5h1M172 526.5h1M182 526.5h1M185 526.5h1M189 526.5h2M194 526.5h2M198 526.5h1M113 527.5h1M118 527.5h1M123 527.5h2M127 527.5h2M130 527.5h5M136 527.5h5M142 527.5h5M148 527.5h3M153 527.5h2M157 527.5h1M162 527.5h1M167 527.5h4M176 527.5h1M178 527.5h1M180 527.5h1M185 527.5h5M193 527.5h1M196 527.5h1M199 527.5h1M115 528.5h1M118 528.5h2M121 528.5h3M125 528.5h2M128 528.5h3M133 528.5h2M136 528.5h6M143 528.5h1M146 528.5h2M149 528.5h2M152 528.5h2M158 528.5h1M160 528.5h1M167 528.5h3M173 528.5h1M175 528.5h1M179 528.5h3M186 528.5h8M196 528.5h1M198 528.5h1M227 528.5h1M110 529.5h1M112 529.5h1M115 529.5h1M117 529.5h4M122 529.5h23M146 529.5h3M150 529.5h1M153 529.5h1M156 529.5h2M167 529.5h1M174 529.5h2M177 529.5h2M180 529.5h1M183 529.5h1M186 529.5h1M188 529.5h2M191 529.5h8M201 529.5h2M213 529.5h1M108 530.5h2M114 530.5h1M117 530.5h2M120 530.5h18M139 530.5h15M156 530.5h4M163 530.5h1M166 530.5h1M168 530.5h2M171 530.5h1M177 530.5h1M179 530.5h1M181 530.5h1M184 530.5h2M187 530.5h9M200 530.5h1M106 531.5h1M108 531.5h1M112 531.5h3M116 531.5h4M121 531.5h26M148 531.5h4M157 531.5h1M159 531.5h3M164 531.5h1M166 531.5h3M170 531.5h1M172 531.5h5M178 531.5h4M183 531.5h2M187 531.5h3M191 531.5h3M195 531.5h1M197 531.5h2M201 531.5h1M206 531.5h2M221 531.5h1M101 532.5h1M110 532.5h4M115 532.5h35M151 532.5h2M155 532.5h2M159 532.5h4M171 532.5h5M177 532.5h3M181 532.5h3M186 532.5h12M199 532.5h2M106 533.5h1M111 533.5h43M155 533.5h2M158 533.5h1M160 533.5h2M163 533.5h1M165 533.5h2M168 533.5h8M178 533.5h1M181 533.5h17M201 533.5h1M203 533.5h1M102 534.5h1M105 534.5h3M109 534.5h43M153 534.5h5M159 534.5h2M164 534.5h1M166 534.5h4M171 534.5h1M173 534.5h1M175 534.5h4M180 534.5h21M202 534.5h1M105 535.5h4M110 535.5h46M159 535.5h1M162 535.5h1M164 535.5h2M167 535.5h5M173 535.5h29M207 535.5h1M102 536.5h48M151 536.5h9M161 536.5h1M163 536.5h13M177 536.5h5M183 536.5h18M227 536.5h1M100 537.5h4M105 537.5h49M155 537.5h3M159 537.5h6M166 537.5h8M175 537.5h4M180 537.5h8M189 537.5h1M191 537.5h9M205 537.5h1M104 538.5h3M108 538.5h55M164 538.5h24M189 538.5h8M198 538.5h3M224 538.5h2M105 539.5h60M166 539.5h4M171 539.5h20M192 539.5h7M205 539.5h1M103 540.5h50M156 540.5h4M161 540.5h5M167 540.5h6M174 540.5h3M178 540.5h4M183 540.5h13M199 540.5h1M201 540.5h1M205 540.5h1M103 541.5h4M108 541.5h47M156 541.5h2M159 541.5h21M181 541.5h2M185 541.5h12M201 541.5h2M103 542.5h1M107 542.5h4M112 542.5h1M114 542.5h39M154 542.5h4M160 542.5h1M163 542.5h2M166 542.5h6M173 542.5h4M179 542.5h1M181 542.5h7M189 542.5h1M191 542.5h4M196 542.5h5M102 543.5h1M107 543.5h1M114 543.5h36M151 543.5h2M154 543.5h1M157 543.5h3M161 543.5h1M165 543.5h3M169 543.5h10M185 543.5h4M192 543.5h1M196 543.5h2M104 544.5h1M107 544.5h1M110 544.5h3M116 544.5h29M146 544.5h6M156 544.5h2M159 544.5h1M162 544.5h1M164 544.5h1M166 544.5h1M168 544.5h1M170 544.5h3M174 544.5h3M178 544.5h2M181 544.5h1M183 544.5h1M192 544.5h1M197 544.5h1M200 544.5h1M105 545.5h1M108 545.5h1M111 545.5h1M113 545.5h1M115 545.5h4M120 545.5h14M135 545.5h10M148 545.5h1M150 545.5h1M153 545.5h1M157 545.5h1M159 545.5h2M163 545.5h3M167 545.5h1M170 545.5h1M179 545.5h1M185 545.5h1M187 545.5h1M191 545.5h1M193 545.5h1M112 546.5h2M115 546.5h1M117 546.5h4M122 546.5h1M124 546.5h6M131 546.5h18M152 546.5h1M170 546.5h2M174 546.5h1M183 546.5h1M104 547.5h1M113 547.5h5M119 547.5h1M121 547.5h2M124 547.5h10M135 547.5h1M138 547.5h1M142 547.5h1M144 547.5h1M147 547.5h1M165 547.5h1M168 547.5h1M174 547.5h1M184 547.5h1M111 548.5h1M120 548.5h2M124 548.5h1M127 548.5h1M130 548.5h1M132 548.5h1M136 548.5h5M144 548.5h1M146 548.5h1M150 548.5h1M187 548.5h1M117 549.5h1M120 549.5h1M123 549.5h1M127 549.5h1M129 549.5h1M131 549.5h2M134 549.5h1M136 549.5h2M139 549.5h2M142 549.5h1M148 549.5h1M123 550.5h1M133 550.5h1M140 550.5h1M123 551.5h1M134 551.5h1M138 551.5h1" stroke="#000" stroke-width="1" fill="none" shape-rendering="crispEdges"/>
<rect x="98.60" y="433.30" width="132" height="121.6" fill="none" stroke="#333" stroke-width="1"/>
<rect x="169.30" y="450.20" width="47.10" height="61.10" fill="none" stroke="#000" stroke-width="1.4"/>
<text x="122.50" y="477.00" font-size="14.6" text-anchor="start" font-weight="normal" font-style="normal" fill="#000" >0.53%</text>
<line x1="92.00" y1="446.10" x2="98.60" y2="446.10" stroke="#000" stroke-width="1.3" />
<text x="73.00" y="449.70" font-size="10" text-anchor="start" font-weight="normal" font-style="normal" fill="#000" stroke="#000" stroke-width="0.25">10<tspan font-size="6.8" dy="-3.3">5</tspan></text>
<line x1="92.00" y1="473.50" x2="98.60" y2="473.50" stroke="#000" stroke-width="1.3" />
<text x="73.00" y="477.10" font-size="10" text-anchor="start" font-weight="normal" font-style="normal" fill="#000" stroke="#000" stroke-width="0.25">10<tspan font-size="6.8" dy="-3.3">4</tspan></text>
<line x1="92.00" y1="501.10" x2="98.60" y2="501.10" stroke="#000" stroke-width="1.3" />
<text x="73.00" y="504.70" font-size="10" text-anchor="start" font-weight="normal" font-style="normal" fill="#000" stroke="#000" stroke-width="0.25">10<tspan font-size="6.8" dy="-3.3">3</tspan></text>
<line x1="92.00" y1="530.20" x2="98.60" y2="530.20" stroke="#000" stroke-width="1.3" />
<text x="73.00" y="533.80" font-size="10" text-anchor="start" font-weight="normal" font-style="normal" fill="#000" stroke="#000" stroke-width="0.25">10<tspan font-size="6.8" dy="-3.3">2</tspan></text>
<line x1="92.00" y1="545.70" x2="98.60" y2="545.70" stroke="#000" stroke-width="1.3" />
<text x="77.10" y="549.30" font-size="10" text-anchor="start" font-weight="normal" font-style="normal" fill="#000" stroke="#000" stroke-width="0.25">0</text>
<line x1="92.00" y1="553.90" x2="98.60" y2="553.90" stroke="#000" stroke-width="1.3" />
<line x1="95.30" y1="465.25" x2="98.60" y2="465.25" stroke="#000" stroke-width="1" />
<line x1="95.30" y1="460.43" x2="98.60" y2="460.43" stroke="#000" stroke-width="1" />
<line x1="95.30" y1="457.00" x2="98.60" y2="457.00" stroke="#000" stroke-width="1" />
<line x1="95.30" y1="454.35" x2="98.60" y2="454.35" stroke="#000" stroke-width="1" />
<line x1="95.30" y1="452.18" x2="98.60" y2="452.18" stroke="#000" stroke-width="1" />
<line x1="95.30" y1="450.34" x2="98.60" y2="450.34" stroke="#000" stroke-width="1" />
<line x1="95.30" y1="448.76" x2="98.60" y2="448.76" stroke="#000" stroke-width="1" />
<line x1="95.30" y1="447.35" x2="98.60" y2="447.35" stroke="#000" stroke-width="1" />
<line x1="95.30" y1="492.79" x2="98.60" y2="492.79" stroke="#000" stroke-width="1" />
<line x1="95.30" y1="487.93" x2="98.60" y2="487.93" stroke="#000" stroke-width="1" />
<line x1="95.30" y1="484.48" x2="98.60" y2="484.48" stroke="#000" stroke-width="1" />
<line x1="95.30" y1="481.81" x2="98.60" y2="481.81" stroke="#000" stroke-width="1" />
<line x1="95.30" y1="479.62" x2="98.60" y2="479.62" stroke="#000" stroke-width="1" />
<line x1="95.30" y1="477.78" x2="98.60" y2="477.78" stroke="#000" stroke-width="1" />
<line x1="95.30" y1="476.17" x2="98.60" y2="476.17" stroke="#000" stroke-width="1" />
<line x1="95.30" y1="474.76" x2="98.60" y2="474.76" stroke="#000" stroke-width="1" />
<line x1="95.30" y1="521.44" x2="98.60" y2="521.44" stroke="#000" stroke-width="1" />
<line x1="95.30" y1="516.32" x2="98.60" y2="516.32" stroke="#000" stroke-width="1" />
<line x1="95.30" y1="512.68" x2="98.60" y2="512.68" stroke="#000" stroke-width="1" />
<line x1="95.30" y1="509.86" x2="98.60" y2="509.86" stroke="#000" stroke-width="1" />
<line x1="95.30" y1="507.56" x2="98.60" y2="507.56" stroke="#000" stroke-width="1" />
<line x1="95.30" y1="505.61" x2="98.60" y2="505.61" stroke="#000" stroke-width="1" />
<line x1="95.30" y1="503.92" x2="98.60" y2="503.92" stroke="#000" stroke-width="1" />
<line x1="95.30" y1="502.43" x2="98.60" y2="502.43" stroke="#000" stroke-width="1" />
<line x1="95.30" y1="437.85" x2="98.60" y2="437.85" stroke="#000" stroke-width="1" />
<line x1="93.80" y1="531.90" x2="98.60" y2="531.90" stroke="#000" stroke-width="1.0" />
<line x1="95.30" y1="534.40" x2="98.60" y2="534.40" stroke="#000" stroke-width="1.0" />
<line x1="95.30" y1="536.90" x2="98.60" y2="536.90" stroke="#000" stroke-width="1.0" />
<line x1="93.80" y1="539.40" x2="98.60" y2="539.40" stroke="#000" stroke-width="1.0" />
<line x1="95.30" y1="541.90" x2="98.60" y2="541.90" stroke="#000" stroke-width="1.0" />
<line x1="95.30" y1="544.40" x2="98.60" y2="544.40" stroke="#000" stroke-width="1.0" />
<line x1="95.30" y1="549.40" x2="98.60" y2="549.40" stroke="#000" stroke-width="1.0" />
<line x1="95.30" y1="551.90" x2="98.60" y2="551.90" stroke="#000" stroke-width="1.0" />
<line x1="99.90" y1="554.90" x2="99.90" y2="561.50" stroke="#000" stroke-width="1.3" />
<line x1="111.90" y1="554.90" x2="111.90" y2="561.50" stroke="#000" stroke-width="1.3" />
<text x="112.40" y="574.80" font-size="10" text-anchor="middle" font-weight="normal" font-style="normal" fill="#000" stroke="#000" stroke-width="0.25">0</text>
<line x1="125.70" y1="554.90" x2="125.70" y2="561.50" stroke="#000" stroke-width="1.3" />
<text x="122.50" y="574.80" font-size="10" text-anchor="start" font-weight="normal" font-style="normal" fill="#000" stroke="#000" stroke-width="0.25">10<tspan font-size="6.8" dy="-3.3">2</tspan></text>
<line x1="157.20" y1="554.90" x2="157.20" y2="561.50" stroke="#000" stroke-width="1.3" />
<text x="153.00" y="574.80" font-size="10" text-anchor="start" font-weight="normal" font-style="normal" fill="#000" stroke="#000" stroke-width="0.25">10<tspan font-size="6.8" dy="-3.3">3</tspan></text>
<line x1="187.40" y1="554.90" x2="187.40" y2="561.50" stroke="#000" stroke-width="1.3" />
<text x="183.20" y="574.80" font-size="10" text-anchor="start" font-weight="normal" font-style="normal" fill="#000" stroke="#000" stroke-width="0.25">10<tspan font-size="6.8" dy="-3.3">4</tspan></text>
<line x1="217.70" y1="554.90" x2="217.70" y2="561.50" stroke="#000" stroke-width="1.3" />
<text x="213.50" y="574.80" font-size="10" text-anchor="start" font-weight="normal" font-style="normal" fill="#000" stroke="#000" stroke-width="0.25">10<tspan font-size="6.8" dy="-3.3">5</tspan></text>
<line x1="228.00" y1="554.90" x2="228.00" y2="558.90" stroke="#000" stroke-width="1" />
<line x1="135.18" y1="554.90" x2="135.18" y2="558.20" stroke="#000" stroke-width="1" />
<line x1="140.73" y1="554.90" x2="140.73" y2="558.20" stroke="#000" stroke-width="1" />
<line x1="144.66" y1="554.90" x2="144.66" y2="558.20" stroke="#000" stroke-width="1" />
<line x1="147.72" y1="554.90" x2="147.72" y2="558.20" stroke="#000" stroke-width="1" />
<line x1="150.21" y1="554.90" x2="150.21" y2="558.20" stroke="#000" stroke-width="1" />
<line x1="152.32" y1="554.90" x2="152.32" y2="558.20" stroke="#000" stroke-width="1" />
<line x1="154.15" y1="554.90" x2="154.15" y2="558.20" stroke="#000" stroke-width="1" />
<line x1="155.76" y1="554.90" x2="155.76" y2="558.20" stroke="#000" stroke-width="1" />
<line x1="166.29" y1="554.90" x2="166.29" y2="558.20" stroke="#000" stroke-width="1" />
<line x1="171.61" y1="554.90" x2="171.61" y2="558.20" stroke="#000" stroke-width="1" />
<line x1="175.38" y1="554.90" x2="175.38" y2="558.20" stroke="#000" stroke-width="1" />
<line x1="178.31" y1="554.90" x2="178.31" y2="558.20" stroke="#000" stroke-width="1" />
<line x1="180.70" y1="554.90" x2="180.70" y2="558.20" stroke="#000" stroke-width="1" />
<line x1="182.72" y1="554.90" x2="182.72" y2="558.20" stroke="#000" stroke-width="1" />
<line x1="184.47" y1="554.90" x2="184.47" y2="558.20" stroke="#000" stroke-width="1" />
<line x1="186.02" y1="554.90" x2="186.02" y2="558.20" stroke="#000" stroke-width="1" />
<line x1="196.52" y1="554.90" x2="196.52" y2="558.20" stroke="#000" stroke-width="1" />
<line x1="201.86" y1="554.90" x2="201.86" y2="558.20" stroke="#000" stroke-width="1" />
<line x1="205.64" y1="554.90" x2="205.64" y2="558.20" stroke="#000" stroke-width="1" />
<line x1="208.58" y1="554.90" x2="208.58" y2="558.20" stroke="#000" stroke-width="1" />
<line x1="210.98" y1="554.90" x2="210.98" y2="558.20" stroke="#000" stroke-width="1" />
<line x1="213.01" y1="554.90" x2="213.01" y2="558.20" stroke="#000" stroke-width="1" />
<line x1="214.76" y1="554.90" x2="214.76" y2="558.20" stroke="#000" stroke-width="1" />
<line x1="216.31" y1="554.90" x2="216.31" y2="558.20" stroke="#000" stroke-width="1" />
<line x1="101.40" y1="554.90" x2="101.40" y2="559.70" stroke="#000" stroke-width="1.0" />
<line x1="103.70" y1="554.90" x2="103.70" y2="558.20" stroke="#000" stroke-width="1.0" />
<line x1="106.00" y1="554.90" x2="106.00" y2="558.20" stroke="#000" stroke-width="1.0" />
<line x1="108.30" y1="554.90" x2="108.30" y2="559.70" stroke="#000" stroke-width="1.0" />
<line x1="110.60" y1="554.90" x2="110.60" y2="558.20" stroke="#000" stroke-width="1.0" />
<line x1="115.20" y1="554.90" x2="115.20" y2="559.70" stroke="#000" stroke-width="1.0" />
<line x1="117.50" y1="554.90" x2="117.50" y2="558.20" stroke="#000" stroke-width="1.0" />
<line x1="119.80" y1="554.90" x2="119.80" y2="558.20" stroke="#000" stroke-width="1.0" />
<line x1="122.10" y1="554.90" x2="122.10" y2="559.70" stroke="#000" stroke-width="1.0" />
<line x1="124.40" y1="554.90" x2="124.40" y2="558.20" stroke="#000" stroke-width="1.0" />
<path d="M383 453.5h1M385 453.5h1M353 454.5h1M380 457.5h1M341 458.5h1M384 458.5h1M358 459.5h1M362 459.5h1M382 460.5h1M369 461.5h2M383 461.5h1M357 463.5h1M369 463.5h1M388 463.5h1M373 465.5h1M356 466.5h1M365 466.5h2M368 466.5h1M354 467.5h1M360 467.5h1M363 467.5h1M378 467.5h1M353 468.5h1M362 468.5h1M365 468.5h1M371 468.5h1M357 469.5h1M359 469.5h1M362 469.5h2M346 470.5h1M353 470.5h1M357 470.5h1M374 470.5h1M352 471.5h1M355 471.5h1M358 471.5h1M360 471.5h1M362 471.5h1M370 471.5h1M350 472.5h1M352 472.5h1M355 472.5h1M357 472.5h1M359 472.5h1M372 472.5h1M349 473.5h5M355 473.5h1M360 473.5h1M370 473.5h1M350 474.5h2M353 474.5h5M360 474.5h1M365 474.5h1M368 474.5h1M374 474.5h1M350 475.5h6M357 475.5h2M361 475.5h2M367 475.5h1M342 476.5h1M348 476.5h1M352 476.5h3M357 476.5h1M360 476.5h1M362 476.5h1M366 476.5h1M374 476.5h1M346 477.5h1M350 477.5h1M352 477.5h3M356 477.5h1M358 477.5h3M362 477.5h1M366 477.5h1M373 477.5h1M347 478.5h1M349 478.5h9M359 478.5h3M363 478.5h1M369 478.5h1M376 478.5h1M348 479.5h11M360 479.5h1M345 480.5h1M348 480.5h2M351 480.5h10M364 480.5h1M348 481.5h7M356 481.5h2M359 481.5h1M361 481.5h2M366 481.5h1M370 481.5h1M347 482.5h1M349 482.5h9M361 482.5h2M366 482.5h1M382 482.5h1M345 483.5h1M347 483.5h14M364 483.5h3M374 483.5h1M347 484.5h12M360 484.5h3M371 484.5h1M345 485.5h2M349 485.5h10M362 485.5h1M346 486.5h12M359 486.5h1M363 486.5h2M373 486.5h1M348 487.5h9M358 487.5h1M360 487.5h1M363 487.5h1M345 488.5h1M347 488.5h14M362 488.5h1M346 489.5h11M345 490.5h14M346 491.5h16M364 491.5h2M346 492.5h8M355 492.5h2M358 492.5h1M360 492.5h1M362 492.5h1M346 493.5h3M350 493.5h6M357 493.5h3M346 494.5h1M348 494.5h10M359 494.5h1M362 494.5h1M346 495.5h1M348 495.5h12M341 496.5h1M346 496.5h5M352 496.5h3M356 496.5h4M339 497.5h2M342 497.5h1M349 497.5h4M354 497.5h3M358 497.5h1M338 498.5h3M344 498.5h1M347 498.5h1M349 498.5h2M352 498.5h6M333 499.5h1M335 499.5h1M342 499.5h8M351 499.5h3M356 499.5h1M362 499.5h1M314 500.5h1M334 500.5h2M340 500.5h2M346 500.5h1M349 500.5h4M354 500.5h1M365 500.5h1M324 501.5h1M329 501.5h1M331 501.5h1M333 501.5h1M335 501.5h1M337 501.5h1M339 501.5h2M343 501.5h1M347 501.5h3M353 501.5h1M330 502.5h3M334 502.5h7M345 502.5h1M350 502.5h2M353 502.5h3M358 502.5h1M378 502.5h1M322 503.5h1M332 503.5h2M338 503.5h3M346 503.5h1M350 503.5h1M352 503.5h2M357 503.5h2M368 503.5h1M321 504.5h1M323 504.5h1M328 504.5h1M330 504.5h2M333 504.5h2M336 504.5h2M348 504.5h2M352 504.5h1M360 504.5h1M362 504.5h1M369 504.5h1M319 505.5h3M326 505.5h1M329 505.5h2M332 505.5h3M336 505.5h3M351 505.5h1M354 505.5h1M357 505.5h1M364 505.5h1M318 506.5h1M321 506.5h1M329 506.5h7M337 506.5h2M344 506.5h2M349 506.5h2M354 506.5h1M359 506.5h1M370 506.5h1M312 507.5h2M324 507.5h1M327 507.5h1M329 507.5h1M331 507.5h3M335 507.5h1M337 507.5h1M348 507.5h1M351 507.5h1M361 507.5h1M394 507.5h1M316 508.5h1M324 508.5h3M328 508.5h3M333 508.5h1M335 508.5h1M345 508.5h1M348 508.5h2M353 508.5h1M356 508.5h1M360 508.5h2M318 509.5h1M323 509.5h1M325 509.5h2M329 509.5h2M332 509.5h2M335 509.5h1M339 509.5h1M341 509.5h1M346 509.5h2M351 509.5h2M374 509.5h1M382 509.5h1M315 510.5h1M320 510.5h1M323 510.5h1M326 510.5h3M330 510.5h2M334 510.5h1M351 510.5h1M362 510.5h1M370 510.5h1M308 511.5h1M316 511.5h1M323 511.5h2M326 511.5h3M330 511.5h1M342 511.5h1M344 511.5h1M348 511.5h1M351 511.5h1M357 511.5h1M313 512.5h2M319 512.5h2M323 512.5h1M325 512.5h3M329 512.5h2M334 512.5h1M344 512.5h1M367 512.5h1M316 513.5h2M319 513.5h9M329 513.5h2M334 513.5h1M339 513.5h1M349 513.5h2M357 513.5h2M361 513.5h1M314 514.5h1M316 514.5h12M330 514.5h3M336 514.5h1M339 514.5h1M343 514.5h1M364 514.5h1M367 514.5h1M374 514.5h1M391 514.5h1M308 515.5h1M314 515.5h1M317 515.5h10M328 515.5h4M334 515.5h1M338 515.5h1M340 515.5h1M342 515.5h1M344 515.5h1M351 515.5h1M356 515.5h2M361 515.5h1M364 515.5h1M305 516.5h1M315 516.5h2M318 516.5h8M327 516.5h3M334 516.5h1M340 516.5h2M345 516.5h3M355 516.5h1M369 516.5h3M313 517.5h17M332 517.5h1M334 517.5h2M339 517.5h1M341 517.5h1M343 517.5h1M349 517.5h1M355 517.5h1M357 517.5h1M359 517.5h1M361 517.5h1M366 517.5h2M369 517.5h1M392 517.5h2M305 518.5h1M309 518.5h2M317 518.5h10M329 518.5h1M334 518.5h1M336 518.5h1M338 518.5h5M345 518.5h1M349 518.5h1M351 518.5h1M360 518.5h1M367 518.5h1M371 518.5h1M305 519.5h1M308 519.5h2M312 519.5h1M314 519.5h1M317 519.5h2M320 519.5h3M324 519.5h1M326 519.5h1M329 519.5h1M331 519.5h1M335 519.5h2M339 519.5h2M342 519.5h3M347 519.5h1M354 519.5h1M359 519.5h1M361 519.5h1M364 519.5h1M367 519.5h1M370 519.5h1M372 519.5h1M297 520.5h1M304 520.5h1M310 520.5h1M313 520.5h2M316 520.5h1M318 520.5h3M323 520.5h1M326 520.5h5M333 520.5h2M337 520.5h1M339 520.5h1M341 520.5h1M344 520.5h1M347 520.5h1M352 520.5h1M360 520.5h1M362 520.5h3M366 520.5h3M371 520.5h2M394 520.5h1M278 521.5h1M292 521.5h1M308 521.5h2M314 521.5h1M317 521.5h2M322 521.5h1M324 521.5h1M326 521.5h2M330 521.5h5M336 521.5h1M339 521.5h2M343 521.5h1M346 521.5h2M355 521.5h1M357 521.5h1M360 521.5h1M362 521.5h3M366 521.5h2M369 521.5h3M374 521.5h1M382 521.5h1M276 522.5h1M280 522.5h1M288 522.5h1M301 522.5h1M320 522.5h2M323 522.5h3M329 522.5h1M331 522.5h2M342 522.5h1M344 522.5h2M348 522.5h1M351 522.5h1M355 522.5h2M358 522.5h1M360 522.5h10M372 522.5h4M380 522.5h1M386 522.5h1M284 523.5h2M287 523.5h1M289 523.5h1M294 523.5h1M296 523.5h2M304 523.5h3M308 523.5h1M315 523.5h1M317 523.5h1M319 523.5h1M323 523.5h1M327 523.5h1M329 523.5h1M332 523.5h2M335 523.5h1M337 523.5h2M341 523.5h2M345 523.5h1M347 523.5h1M349 523.5h1M351 523.5h1M357 523.5h2M361 523.5h3M365 523.5h12M380 523.5h1M279 524.5h1M285 524.5h1M287 524.5h1M289 524.5h5M297 524.5h2M301 524.5h2M304 524.5h1M306 524.5h1M308 524.5h2M311 524.5h1M313 524.5h1M318 524.5h2M321 524.5h1M323 524.5h1M325 524.5h1M327 524.5h1M329 524.5h2M334 524.5h1M336 524.5h1M340 524.5h2M343 524.5h2M348 524.5h2M354 524.5h1M358 524.5h1M360 524.5h2M363 524.5h14M382 524.5h1M277 525.5h2M288 525.5h2M291 525.5h1M293 525.5h1M296 525.5h1M299 525.5h1M301 525.5h4M306 525.5h1M308 525.5h1M310 525.5h4M315 525.5h1M318 525.5h3M323 525.5h2M327 525.5h2M334 525.5h1M337 525.5h1M339 525.5h5M351 525.5h2M357 525.5h5M363 525.5h15M277 526.5h1M281 526.5h7M289 526.5h6M297 526.5h15M313 526.5h3M318 526.5h2M322 526.5h3M326 526.5h2M329 526.5h2M334 526.5h5M342 526.5h1M344 526.5h2M354 526.5h1M358 526.5h20M379 526.5h1M276 527.5h2M280 527.5h1M283 527.5h1M285 527.5h21M307 527.5h5M313 527.5h2M317 527.5h1M320 527.5h1M322 527.5h2M325 527.5h1M327 527.5h1M333 527.5h3M338 527.5h1M340 527.5h3M344 527.5h2M348 527.5h1M352 527.5h1M355 527.5h1M358 527.5h1M360 527.5h19M272 528.5h1M276 528.5h7M285 528.5h31M317 528.5h6M324 528.5h8M333 528.5h1M335 528.5h2M338 528.5h2M341 528.5h5M347 528.5h2M350 528.5h27M272 529.5h1M274 529.5h5M280 529.5h38M319 529.5h6M327 529.5h2M331 529.5h3M335 529.5h3M339 529.5h8M348 529.5h1M351 529.5h1M357 529.5h22M274 530.5h2M277 530.5h1M279 530.5h37M317 530.5h3M322 530.5h1M324 530.5h3M331 530.5h11M343 530.5h4M349 530.5h1M351 530.5h2M354 530.5h21M376 530.5h1M272 531.5h47M320 531.5h2M323 531.5h1M326 531.5h3M331 531.5h12M344 531.5h8M353 531.5h2M356 531.5h22M380 531.5h1M273 532.5h1M275 532.5h39M315 532.5h4M320 532.5h4M327 532.5h4M332 532.5h1M334 532.5h17M352 532.5h26M387 532.5h1M273 533.5h45M319 533.5h5M325 533.5h4M330 533.5h2M334 533.5h19M354 533.5h2M357 533.5h21M274 534.5h46M322 534.5h2M325 534.5h3M329 534.5h1M331 534.5h16M348 534.5h7M356 534.5h2M359 534.5h17M380 534.5h1M272 535.5h48M321 535.5h1M323 535.5h1M326 535.5h2M330 535.5h43M374 535.5h3M378 535.5h1M272 536.5h47M320 536.5h1M322 536.5h1M324 536.5h3M328 536.5h27M356 536.5h17M374 536.5h1M376 536.5h1M272 537.5h1M274 537.5h1M277 537.5h40M318 537.5h5M324 537.5h1M327 537.5h3M331 537.5h26M358 537.5h18M390 537.5h1M274 538.5h3M279 538.5h36M317 538.5h1M319 538.5h1M321 538.5h1M325 538.5h1M327 538.5h1M329 538.5h1M331 538.5h3M335 538.5h23M359 538.5h15M376 538.5h2M272 539.5h2M275 539.5h44M323 539.5h1M326 539.5h7M334 539.5h18M354 539.5h2M357 539.5h4M362 539.5h1M364 539.5h10M390 539.5h1M272 540.5h46M321 540.5h1M331 540.5h2M334 540.5h1M336 540.5h12M349 540.5h7M357 540.5h2M360 540.5h2M363 540.5h6M370 540.5h1M372 540.5h2M274 541.5h25M300 541.5h12M313 541.5h4M319 541.5h1M321 541.5h1M324 541.5h1M326 541.5h1M329 541.5h1M331 541.5h1M333 541.5h4M338 541.5h1M341 541.5h8M352 541.5h3M357 541.5h1M361 541.5h2M365 541.5h3M369 541.5h3M373 541.5h3M276 542.5h5M282 542.5h21M304 542.5h10M315 542.5h1M321 542.5h2M327 542.5h1M334 542.5h1M337 542.5h3M344 542.5h2M348 542.5h4M362 542.5h1M364 542.5h1M275 543.5h1M277 543.5h1M279 543.5h1M281 543.5h1M285 543.5h1M287 543.5h6M294 543.5h2M297 543.5h7M305 543.5h5M311 543.5h4M318 543.5h1M320 543.5h1M334 543.5h1M337 543.5h3M341 543.5h2M344 543.5h1M347 543.5h1M359 543.5h1M361 543.5h1M363 543.5h1M369 543.5h1M371 543.5h1M276 544.5h1M279 544.5h1M283 544.5h4M288 544.5h8M297 544.5h7M305 544.5h7M313 544.5h1M317 544.5h1M327 544.5h1M332 544.5h1M335 544.5h2M341 544.5h1M343 544.5h1M348 544.5h2M355 544.5h1M357 544.5h1M361 544.5h1M364 544.5h1M276 545.5h1M281 545.5h1M284 545.5h3M289 545.5h1M291 545.5h3M295 545.5h1M297 545.5h1M300 545.5h1M302 545.5h1M305 545.5h3M309 545.5h2M313 545.5h1M318 545.5h1M333 545.5h1M340 545.5h1M342 545.5h1M347 545.5h1M354 545.5h1M277 546.5h2M283 546.5h1M288 546.5h1M292 546.5h1M295 546.5h1M307 546.5h2M318 546.5h1M322 546.5h1M340 546.5h1M343 546.5h3M350 546.5h1M300 547.5h1M305 547.5h1M307 547.5h1M277 548.5h1M306 548.5h2M339 548.5h1M348 548.5h1M367 548.5h1M370 548.5h1M294 549.5h1M342 549.5h1M393 549.5h1M342 550.5h1M378 550.5h1M326 551.5h1M342 551.5h1M297 552.5h1M345 552.5h1M359 553.5h1M372 553.5h1" stroke="#000" stroke-width="1" fill="none" shape-rendering="crispEdges"/>
<rect x="270.20" y="433.30" width="132" height="121.6" fill="none" stroke="#333" stroke-width="1"/>
<rect x="340.40" y="451.40" width="47.20" height="60.90" fill="none" stroke="#000" stroke-width="1.4"/>
<text x="303.00" y="476.30" font-size="14.6" text-anchor="start" font-weight="normal" font-style="normal" fill="#000" >7.2%</text>
<line x1="263.60" y1="446.10" x2="270.20" y2="446.10" stroke="#000" stroke-width="1.3" />
<text x="244.60" y="449.70" font-size="10" text-anchor="start" font-weight="normal" font-style="normal" fill="#000" stroke="#000" stroke-width="0.25">10<tspan font-size="6.8" dy="-3.3">5</tspan></text>
<line x1="263.60" y1="473.50" x2="270.20" y2="473.50" stroke="#000" stroke-width="1.3" />
<text x="244.60" y="477.10" font-size="10" text-anchor="start" font-weight="normal" font-style="normal" fill="#000" stroke="#000" stroke-width="0.25">10<tspan font-size="6.8" dy="-3.3">4</tspan></text>
<line x1="263.60" y1="501.10" x2="270.20" y2="501.10" stroke="#000" stroke-width="1.3" />
<text x="244.60" y="504.70" font-size="10" text-anchor="start" font-weight="normal" font-style="normal" fill="#000" stroke="#000" stroke-width="0.25">10<tspan font-size="6.8" dy="-3.3">3</tspan></text>
<line x1="263.60" y1="530.20" x2="270.20" y2="530.20" stroke="#000" stroke-width="1.3" />
<text x="244.60" y="533.80" font-size="10" text-anchor="start" font-weight="normal" font-style="normal" fill="#000" stroke="#000" stroke-width="0.25">10<tspan font-size="6.8" dy="-3.3">2</tspan></text>
<line x1="263.60" y1="545.70" x2="270.20" y2="545.70" stroke="#000" stroke-width="1.3" />
<text x="248.70" y="549.30" font-size="10" text-anchor="start" font-weight="normal" font-style="normal" fill="#000" stroke="#000" stroke-width="0.25">0</text>
<line x1="263.60" y1="553.90" x2="270.20" y2="553.90" stroke="#000" stroke-width="1.3" />
<line x1="266.90" y1="465.25" x2="270.20" y2="465.25" stroke="#000" stroke-width="1" />
<line x1="266.90" y1="460.43" x2="270.20" y2="460.43" stroke="#000" stroke-width="1" />
<line x1="266.90" y1="457.00" x2="270.20" y2="457.00" stroke="#000" stroke-width="1" />
<line x1="266.90" y1="454.35" x2="270.20" y2="454.35" stroke="#000" stroke-width="1" />
<line x1="266.90" y1="452.18" x2="270.20" y2="452.18" stroke="#000" stroke-width="1" />
<line x1="266.90" y1="450.34" x2="270.20" y2="450.34" stroke="#000" stroke-width="1" />
<line x1="266.90" y1="448.76" x2="270.20" y2="448.76" stroke="#000" stroke-width="1" />
<line x1="266.90" y1="447.35" x2="270.20" y2="447.35" stroke="#000" stroke-width="1" />
<line x1="266.90" y1="492.79" x2="270.20" y2="492.79" stroke="#000" stroke-width="1" />
<line x1="266.90" y1="487.93" x2="270.20" y2="487.93" stroke="#000" stroke-width="1" />
<line x1="266.90" y1="484.48" x2="270.20" y2="484.48" stroke="#000" stroke-width="1" />
<line x1="266.90" y1="481.81" x2="270.20" y2="481.81" stroke="#000" stroke-width="1" />
<line x1="266.90" y1="479.62" x2="270.20" y2="479.62" stroke="#000" stroke-width="1" />
<line x1="266.90" y1="477.78" x2="270.20" y2="477.78" stroke="#000" stroke-width="1" />
<line x1="266.90" y1="476.17" x2="270.20" y2="476.17" stroke="#000" stroke-width="1" />
<line x1="266.90" y1="474.76" x2="270.20" y2="474.76" stroke="#000" stroke-width="1" />
<line x1="266.90" y1="521.44" x2="270.20" y2="521.44" stroke="#000" stroke-width="1" />
<line x1="266.90" y1="516.32" x2="270.20" y2="516.32" stroke="#000" stroke-width="1" />
<line x1="266.90" y1="512.68" x2="270.20" y2="512.68" stroke="#000" stroke-width="1" />
<line x1="266.90" y1="509.86" x2="270.20" y2="509.86" stroke="#000" stroke-width="1" />
<line x1="266.90" y1="507.56" x2="270.20" y2="507.56" stroke="#000" stroke-width="1" />
<line x1="266.90" y1="505.61" x2="270.20" y2="505.61" stroke="#000" stroke-width="1" />
<line x1="266.90" y1="503.92" x2="270.20" y2="503.92" stroke="#000" stroke-width="1" />
<line x1="266.90" y1="502.43" x2="270.20" y2="502.43" stroke="#000" stroke-width="1" />
<line x1="266.90" y1="437.85" x2="270.20" y2="437.85" stroke="#000" stroke-width="1" />
<line x1="265.40" y1="531.90" x2="270.20" y2="531.90" stroke="#000" stroke-width="1.0" />
<line x1="266.90" y1="534.40" x2="270.20" y2="534.40" stroke="#000" stroke-width="1.0" />
<line x1="266.90" y1="536.90" x2="270.20" y2="536.90" stroke="#000" stroke-width="1.0" />
<line x1="265.40" y1="539.40" x2="270.20" y2="539.40" stroke="#000" stroke-width="1.0" />
<line x1="266.90" y1="541.90" x2="270.20" y2="541.90" stroke="#000" stroke-width="1.0" />
<line x1="266.90" y1="544.40" x2="270.20" y2="544.40" stroke="#000" stroke-width="1.0" />
<line x1="266.90" y1="549.40" x2="270.20" y2="549.40" stroke="#000" stroke-width="1.0" />
<line x1="266.90" y1="551.90" x2="270.20" y2="551.90" stroke="#000" stroke-width="1.0" />
<line x1="271.50" y1="554.90" x2="271.50" y2="561.50" stroke="#000" stroke-width="1.3" />
<line x1="283.50" y1="554.90" x2="283.50" y2="561.50" stroke="#000" stroke-width="1.3" />
<text x="284.00" y="574.80" font-size="10" text-anchor="middle" font-weight="normal" font-style="normal" fill="#000" stroke="#000" stroke-width="0.25">0</text>
<line x1="297.30" y1="554.90" x2="297.30" y2="561.50" stroke="#000" stroke-width="1.3" />
<text x="294.10" y="574.80" font-size="10" text-anchor="start" font-weight="normal" font-style="normal" fill="#000" stroke="#000" stroke-width="0.25">10<tspan font-size="6.8" dy="-3.3">2</tspan></text>
<line x1="328.80" y1="554.90" x2="328.80" y2="561.50" stroke="#000" stroke-width="1.3" />
<text x="324.60" y="574.80" font-size="10" text-anchor="start" font-weight="normal" font-style="normal" fill="#000" stroke="#000" stroke-width="0.25">10<tspan font-size="6.8" dy="-3.3">3</tspan></text>
<line x1="359.00" y1="554.90" x2="359.00" y2="561.50" stroke="#000" stroke-width="1.3" />
<text x="354.80" y="574.80" font-size="10" text-anchor="start" font-weight="normal" font-style="normal" fill="#000" stroke="#000" stroke-width="0.25">10<tspan font-size="6.8" dy="-3.3">4</tspan></text>
<line x1="389.30" y1="554.90" x2="389.30" y2="561.50" stroke="#000" stroke-width="1.3" />
<text x="385.10" y="574.80" font-size="10" text-anchor="start" font-weight="normal" font-style="normal" fill="#000" stroke="#000" stroke-width="0.25">10<tspan font-size="6.8" dy="-3.3">5</tspan></text>
<line x1="399.60" y1="554.90" x2="399.60" y2="558.90" stroke="#000" stroke-width="1" />
<line x1="306.78" y1="554.90" x2="306.78" y2="558.20" stroke="#000" stroke-width="1" />
<line x1="312.33" y1="554.90" x2="312.33" y2="558.20" stroke="#000" stroke-width="1" />
<line x1="316.26" y1="554.90" x2="316.26" y2="558.20" stroke="#000" stroke-width="1" />
<line x1="319.32" y1="554.90" x2="319.32" y2="558.20" stroke="#000" stroke-width="1" />
<line x1="321.81" y1="554.90" x2="321.81" y2="558.20" stroke="#000" stroke-width="1" />
<line x1="323.92" y1="554.90" x2="323.92" y2="558.20" stroke="#000" stroke-width="1" />
<line x1="325.75" y1="554.90" x2="325.75" y2="558.20" stroke="#000" stroke-width="1" />
<line x1="327.36" y1="554.90" x2="327.36" y2="558.20" stroke="#000" stroke-width="1" />
<line x1="337.89" y1="554.90" x2="337.89" y2="558.20" stroke="#000" stroke-width="1" />
<line x1="343.21" y1="554.90" x2="343.21" y2="558.20" stroke="#000" stroke-width="1" />
<line x1="346.98" y1="554.90" x2="346.98" y2="558.20" stroke="#000" stroke-width="1" />
<line x1="349.91" y1="554.90" x2="349.91" y2="558.20" stroke="#000" stroke-width="1" />
<line x1="352.30" y1="554.90" x2="352.30" y2="558.20" stroke="#000" stroke-width="1" />
<line x1="354.32" y1="554.90" x2="354.32" y2="558.20" stroke="#000" stroke-width="1" />
<line x1="356.07" y1="554.90" x2="356.07" y2="558.20" stroke="#000" stroke-width="1" />
<line x1="357.62" y1="554.90" x2="357.62" y2="558.20" stroke="#000" stroke-width="1" />
<line x1="368.12" y1="554.90" x2="368.12" y2="558.20" stroke="#000" stroke-width="1" />
<line x1="373.46" y1="554.90" x2="373.46" y2="558.20" stroke="#000" stroke-width="1" />
<line x1="377.24" y1="554.90" x2="377.24" y2="558.20" stroke="#000" stroke-width="1" />
<line x1="380.18" y1="554.90" x2="380.18" y2="558.20" stroke="#000" stroke-width="1" />
<line x1="382.58" y1="554.90" x2="382.58" y2="558.20" stroke="#000" stroke-width="1" />
<line x1="384.61" y1="554.90" x2="384.61" y2="558.20" stroke="#000" stroke-width="1" />
<line x1="386.36" y1="554.90" x2="386.36" y2="558.20" stroke="#000" stroke-width="1" />
<line x1="387.91" y1="554.90" x2="387.91" y2="558.20" stroke="#000" stroke-width="1" />
<line x1="273.00" y1="554.90" x2="273.00" y2="559.70" stroke="#000" stroke-width="1.0" />
<line x1="275.30" y1="554.90" x2="275.30" y2="558.20" stroke="#000" stroke-width="1.0" />
<line x1="277.60" y1="554.90" x2="277.60" y2="558.20" stroke="#000" stroke-width="1.0" />
<line x1="279.90" y1="554.90" x2="279.90" y2="559.70" stroke="#000" stroke-width="1.0" />
<line x1="282.20" y1="554.90" x2="282.20" y2="558.20" stroke="#000" stroke-width="1.0" />
<line x1="286.80" y1="554.90" x2="286.80" y2="559.70" stroke="#000" stroke-width="1.0" />
<line x1="289.10" y1="554.90" x2="289.10" y2="558.20" stroke="#000" stroke-width="1.0" />
<line x1="291.40" y1="554.90" x2="291.40" y2="558.20" stroke="#000" stroke-width="1.0" />
<line x1="293.70" y1="554.90" x2="293.70" y2="559.70" stroke="#000" stroke-width="1.0" />
<line x1="296.00" y1="554.90" x2="296.00" y2="558.20" stroke="#000" stroke-width="1.0" />
<text x="160.00" y="263.40" font-size="16.5" text-anchor="middle" font-weight="normal" font-style="normal" fill="#000" >Sham</text>
<text x="330.80" y="263.60" font-size="16.5" text-anchor="middle" font-weight="normal" font-style="normal" fill="#000" >CLP</text>
<text x="46.00" y="334.60" font-size="16.5" text-anchor="middle" font-weight="normal" font-style="normal" fill="#000" transform="rotate(-90 46.00 334.60)" >WT</text>
<text x="46.30" y="496.50" font-size="16.3" text-anchor="middle" font-weight="normal" font-style="italic" fill="#000" transform="rotate(-90 46.30 496.50)" >Ripk3<tspan font-size="10" dy="-6.3">-/-</tspan></text>
<text transform="translate(58.3 565.3) rotate(-90) scale(0.92 1)" font-size="16.5" text-anchor="middle">Gr-1</text>
<text x="69.60" y="603.00" font-size="16.4" text-anchor="start" font-weight="normal" font-style="normal" fill="#000" >CD11b</text>
<path d="M67.7 537.5V582.4H113.5" fill="none" stroke="#000" stroke-width="1.4"/>
<path d="M62.6 544.5L67.7 536.7L72.8 544.5" fill="none" stroke="#000" stroke-width="1.4"/>
<path d="M106 577.6L114.4 582.4L106 587.2" fill="none" stroke="#000" stroke-width="1.4"/>
</svg>
</body></html>
